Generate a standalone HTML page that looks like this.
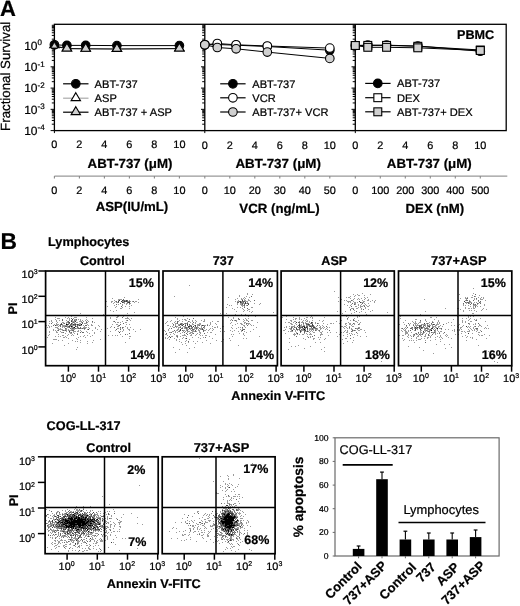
<!DOCTYPE html>
<html><head><meta charset="utf-8"><style>
html,body{margin:0;padding:0;background:#fff;}
svg{display:block;font-family:"Liberation Sans",sans-serif;text-rendering:geometricPrecision;opacity:0.999;}
text{stroke:#000;stroke-width:0.22px;}
</style></head><body>
<svg width="520" height="606" viewBox="0 0 520 606">
<defs><filter id="soft" x="-5%" y="-5%" width="110%" height="110%"><feGaussianBlur stdDeviation="0.5"/></filter></defs>
<rect width="520" height="606" fill="#fff"/>
<text x="0.1" y="15.9" font-size="22.0" font-weight="bold" fill="#000">A</text>
<text transform="translate(9.9,130.9) rotate(-90)" font-size="13.3" fill="#000" textLength="109.2" lengthAdjust="spacingAndGlyphs">Fractional Survival</text>
<text x="24.2" y="49.9" font-size="12" fill="#000">10<tspan font-size="8" dy="-4.6">0</tspan></text>
<text x="24.2" y="71.1" font-size="12" fill="#000">10<tspan font-size="8" dy="-4.6">-1</tspan></text>
<text x="24.2" y="92.4" font-size="12" fill="#000">10<tspan font-size="8" dy="-4.6">-2</tspan></text>
<text x="24.2" y="113.6" font-size="12" fill="#000">10<tspan font-size="8" dy="-4.6">-3</tspan></text>
<text x="24.2" y="134.9" font-size="12" fill="#000">10<tspan font-size="8" dy="-4.6">-4</tspan></text>
<rect x="54.4" y="24.3" width="451.8" height="106.3" fill="none" stroke="#000" stroke-width="1.3"/>
<line x1="204.8" y1="24.3" x2="204.8" y2="130.6" stroke="#000" stroke-width="1.3"/>
<line x1="355.3" y1="24.3" x2="355.3" y2="130.6" stroke="#000" stroke-width="1.3"/>
<path d="M50.6 130.60H54.4M51.8 124.20H54.4M51.8 120.46H54.4M51.8 117.80H54.4M51.8 115.74H54.4M51.8 114.06H54.4M51.8 112.63H54.4M51.8 111.40H54.4M51.8 110.31H54.4M50.6 109.34H54.4M51.8 102.94H54.4M51.8 99.20H54.4M51.8 96.54H54.4M51.8 94.48H54.4M51.8 92.80H54.4M51.8 91.37H54.4M51.8 90.14H54.4M51.8 89.05H54.4M50.6 88.08H54.4M51.8 81.68H54.4M51.8 77.94H54.4M51.8 75.28H54.4M51.8 73.22H54.4M51.8 71.54H54.4M51.8 70.11H54.4M51.8 68.88H54.4M51.8 67.79H54.4M50.6 66.82H54.4M51.8 60.42H54.4M51.8 56.68H54.4M51.8 54.02H54.4M51.8 51.96H54.4M51.8 50.28H54.4M51.8 48.85H54.4M51.8 47.62H54.4M51.8 46.53H54.4M50.6 45.56H54.4M51.8 39.16H54.4M51.8 35.42H54.4M51.8 32.76H54.4M51.8 30.70H54.4M51.8 29.02H54.4M51.8 27.59H54.4M51.8 26.36H54.4M51.8 25.27H54.4M54.4 130.6V133.1" stroke="#000" stroke-width="1.0" fill="none"/>
<path d="M201.0 130.60H204.8M202.2 124.20H204.8M202.2 120.46H204.8M202.2 117.80H204.8M202.2 115.74H204.8M202.2 114.06H204.8M202.2 112.63H204.8M202.2 111.40H204.8M202.2 110.31H204.8M201.0 109.34H204.8M202.2 102.94H204.8M202.2 99.20H204.8M202.2 96.54H204.8M202.2 94.48H204.8M202.2 92.80H204.8M202.2 91.37H204.8M202.2 90.14H204.8M202.2 89.05H204.8M201.0 88.08H204.8M202.2 81.68H204.8M202.2 77.94H204.8M202.2 75.28H204.8M202.2 73.22H204.8M202.2 71.54H204.8M202.2 70.11H204.8M202.2 68.88H204.8M202.2 67.79H204.8M201.0 66.82H204.8M202.2 60.42H204.8M202.2 56.68H204.8M202.2 54.02H204.8M202.2 51.96H204.8M202.2 50.28H204.8M202.2 48.85H204.8M202.2 47.62H204.8M202.2 46.53H204.8M201.0 45.56H204.8M202.2 39.16H204.8M202.2 35.42H204.8M202.2 32.76H204.8M202.2 30.70H204.8M202.2 29.02H204.8M202.2 27.59H204.8M202.2 26.36H204.8M202.2 25.27H204.8M204.8 130.6V133.1" stroke="#000" stroke-width="1.0" fill="none"/>
<path d="M351.5 130.60H355.3M352.7 124.20H355.3M352.7 120.46H355.3M352.7 117.80H355.3M352.7 115.74H355.3M352.7 114.06H355.3M352.7 112.63H355.3M352.7 111.40H355.3M352.7 110.31H355.3M351.5 109.34H355.3M352.7 102.94H355.3M352.7 99.20H355.3M352.7 96.54H355.3M352.7 94.48H355.3M352.7 92.80H355.3M352.7 91.37H355.3M352.7 90.14H355.3M352.7 89.05H355.3M351.5 88.08H355.3M352.7 81.68H355.3M352.7 77.94H355.3M352.7 75.28H355.3M352.7 73.22H355.3M352.7 71.54H355.3M352.7 70.11H355.3M352.7 68.88H355.3M352.7 67.79H355.3M351.5 66.82H355.3M352.7 60.42H355.3M352.7 56.68H355.3M352.7 54.02H355.3M352.7 51.96H355.3M352.7 50.28H355.3M352.7 48.85H355.3M352.7 47.62H355.3M352.7 46.53H355.3M351.5 45.56H355.3M352.7 39.16H355.3M352.7 35.42H355.3M352.7 32.76H355.3M352.7 30.70H355.3M352.7 29.02H355.3M352.7 27.59H355.3M352.7 26.36H355.3M352.7 25.27H355.3M355.3 130.6V133.1" stroke="#000" stroke-width="1.0" fill="none"/>
<text x="54.4" y="147.8" font-size="10.9" text-anchor="middle" fill="#000">0</text>
<text x="54.4" y="193.7" font-size="10.9" text-anchor="middle" fill="#000">0</text>
<text x="79.4" y="147.8" font-size="10.9" text-anchor="middle" fill="#000">2</text>
<text x="79.4" y="193.7" font-size="10.9" text-anchor="middle" fill="#000">2</text>
<text x="104.4" y="147.8" font-size="10.9" text-anchor="middle" fill="#000">4</text>
<text x="104.4" y="193.7" font-size="10.9" text-anchor="middle" fill="#000">4</text>
<text x="129.4" y="147.8" font-size="10.9" text-anchor="middle" fill="#000">6</text>
<text x="129.4" y="193.7" font-size="10.9" text-anchor="middle" fill="#000">6</text>
<text x="154.4" y="147.8" font-size="10.9" text-anchor="middle" fill="#000">8</text>
<text x="154.4" y="193.7" font-size="10.9" text-anchor="middle" fill="#000">8</text>
<text x="179.4" y="147.8" font-size="10.9" text-anchor="middle" fill="#000">10</text>
<text x="179.4" y="193.7" font-size="10.9" text-anchor="middle" fill="#000">10</text>
<text x="204.8" y="148.6" font-size="10.9" text-anchor="middle" fill="#000">0</text>
<text x="204.8" y="193.7" font-size="10.9" text-anchor="middle" fill="#000">0</text>
<text x="229.8" y="148.6" font-size="10.9" text-anchor="middle" fill="#000">2</text>
<text x="229.8" y="193.7" font-size="10.9" text-anchor="middle" fill="#000">10</text>
<text x="254.8" y="148.6" font-size="10.9" text-anchor="middle" fill="#000">4</text>
<text x="254.8" y="193.7" font-size="10.9" text-anchor="middle" fill="#000">20</text>
<text x="279.8" y="148.6" font-size="10.9" text-anchor="middle" fill="#000">6</text>
<text x="279.8" y="193.7" font-size="10.9" text-anchor="middle" fill="#000">30</text>
<text x="304.8" y="148.6" font-size="10.9" text-anchor="middle" fill="#000">8</text>
<text x="304.8" y="193.7" font-size="10.9" text-anchor="middle" fill="#000">40</text>
<text x="329.8" y="148.6" font-size="10.9" text-anchor="middle" fill="#000">10</text>
<text x="329.8" y="193.7" font-size="10.9" text-anchor="middle" fill="#000">50</text>
<text x="355.3" y="148.6" font-size="10.9" text-anchor="middle" fill="#000">0</text>
<text x="355.3" y="193.7" font-size="10.9" text-anchor="middle" fill="#000">0</text>
<text x="380.3" y="148.6" font-size="10.9" text-anchor="middle" fill="#000">2</text>
<text x="380.3" y="193.7" font-size="10.9" text-anchor="middle" fill="#000">100</text>
<text x="405.3" y="148.6" font-size="10.9" text-anchor="middle" fill="#000">4</text>
<text x="405.3" y="193.7" font-size="10.9" text-anchor="middle" fill="#000">200</text>
<text x="430.3" y="148.6" font-size="10.9" text-anchor="middle" fill="#000">6</text>
<text x="430.3" y="193.7" font-size="10.9" text-anchor="middle" fill="#000">300</text>
<text x="455.3" y="148.6" font-size="10.9" text-anchor="middle" fill="#000">8</text>
<text x="455.3" y="193.7" font-size="10.9" text-anchor="middle" fill="#000">400</text>
<text x="480.3" y="148.6" font-size="10.9" text-anchor="middle" fill="#000">10</text>
<text x="480.3" y="193.7" font-size="10.9" text-anchor="middle" fill="#000">500</text>
<line x1="54.4" y1="176.1" x2="507.3" y2="176.1" stroke="#999" stroke-width="1.4"/>
<line x1="54.4" y1="176.1" x2="54.4" y2="178.4" stroke="#888" stroke-width="1.1"/>
<line x1="79.4" y1="176.1" x2="79.4" y2="178.4" stroke="#888" stroke-width="1.1"/>
<line x1="104.4" y1="176.1" x2="104.4" y2="178.4" stroke="#888" stroke-width="1.1"/>
<line x1="129.4" y1="176.1" x2="129.4" y2="178.4" stroke="#888" stroke-width="1.1"/>
<line x1="154.4" y1="176.1" x2="154.4" y2="178.4" stroke="#888" stroke-width="1.1"/>
<line x1="179.4" y1="176.1" x2="179.4" y2="178.4" stroke="#888" stroke-width="1.1"/>
<line x1="204.8" y1="176.1" x2="204.8" y2="178.4" stroke="#888" stroke-width="1.1"/>
<line x1="229.8" y1="176.1" x2="229.8" y2="178.4" stroke="#888" stroke-width="1.1"/>
<line x1="254.8" y1="176.1" x2="254.8" y2="178.4" stroke="#888" stroke-width="1.1"/>
<line x1="279.8" y1="176.1" x2="279.8" y2="178.4" stroke="#888" stroke-width="1.1"/>
<line x1="304.8" y1="176.1" x2="304.8" y2="178.4" stroke="#888" stroke-width="1.1"/>
<line x1="329.8" y1="176.1" x2="329.8" y2="178.4" stroke="#888" stroke-width="1.1"/>
<line x1="355.3" y1="176.1" x2="355.3" y2="178.4" stroke="#888" stroke-width="1.1"/>
<line x1="380.3" y1="176.1" x2="380.3" y2="178.4" stroke="#888" stroke-width="1.1"/>
<line x1="405.3" y1="176.1" x2="405.3" y2="178.4" stroke="#888" stroke-width="1.1"/>
<line x1="430.3" y1="176.1" x2="430.3" y2="178.4" stroke="#888" stroke-width="1.1"/>
<line x1="455.3" y1="176.1" x2="455.3" y2="178.4" stroke="#888" stroke-width="1.1"/>
<line x1="480.3" y1="176.1" x2="480.3" y2="178.4" stroke="#888" stroke-width="1.1"/>
<text x="87.6" y="168.4" font-size="13.2" font-weight="bold" fill="#000" textLength="84.8" lengthAdjust="spacingAndGlyphs">ABT-737 (&#956;M)</text>
<text x="235.4" y="168.4" font-size="13.2" font-weight="bold" fill="#000" textLength="85.6" lengthAdjust="spacingAndGlyphs">ABT-737 (&#956;M)</text>
<text x="386.8" y="168.4" font-size="13.2" font-weight="bold" fill="#000" textLength="84.9" lengthAdjust="spacingAndGlyphs">ABT-737 (&#956;M)</text>
<text x="95.7" y="211.3" font-size="13.2" font-weight="bold" fill="#000">ASP(IU/mL)</text>
<text x="239.3" y="213.1" font-size="13.4" font-weight="bold" textLength="80.3" lengthAdjust="spacingAndGlyphs">VCR (ng/mL)</text>
<text x="405.6" y="213.2" font-size="13.2" font-weight="bold" fill="#000">DEX (nM)</text>
<text x="457.0" y="39.3" font-size="12.6" font-weight="bold" fill="#000">PBMC</text>
<path d="M54.4 45.3 L66.9 48.6 L85.7 48.8 L116.9 49.0 L179.4 48.6" stroke="#999" stroke-width="1.0" fill="none"/>
<path d="M54.4 39.8L59.1 47.7L49.7 47.7Z" fill="#fff" stroke="#000" stroke-width="1.1" stroke-linejoin="miter"/>
<path d="M66.9 43.1L71.6 51.0L62.2 51.0Z" fill="#fff" stroke="#000" stroke-width="1.1" stroke-linejoin="miter"/>
<path d="M85.7 43.3L90.4 51.2L81.0 51.2Z" fill="#fff" stroke="#000" stroke-width="1.1" stroke-linejoin="miter"/>
<path d="M116.9 43.5L121.6 51.4L112.2 51.4Z" fill="#fff" stroke="#000" stroke-width="1.1" stroke-linejoin="miter"/>
<path d="M179.4 43.1L184.1 51.0L174.7 51.0Z" fill="#fff" stroke="#000" stroke-width="1.1" stroke-linejoin="miter"/>
<path d="M54.4 44.8 L66.9 45.4 L85.7 45.4 L116.9 45.6 L179.4 45.6" stroke="#000" stroke-width="1.0" fill="none"/>
<circle cx="54.4" cy="44.8" r="4.3" fill="#000" stroke="#000" stroke-width="1.1"/>
<circle cx="66.9" cy="45.4" r="4.3" fill="#000" stroke="#000" stroke-width="1.1"/>
<circle cx="85.7" cy="45.4" r="4.3" fill="#000" stroke="#000" stroke-width="1.1"/>
<circle cx="116.9" cy="45.6" r="4.3" fill="#000" stroke="#000" stroke-width="1.1"/>
<circle cx="179.4" cy="45.6" r="4.3" fill="#000" stroke="#000" stroke-width="1.1"/>
<path d="M54.4 46.3 L66.9 48.6 L85.7 48.8 L116.9 49.0 L179.4 48.6" stroke="#000" stroke-width="1.0" fill="none"/>
<path d="M54.4 42.3L57.8 48.0L51.0 48.0Z" fill="#d0d0d0" stroke="#000" stroke-width="0.8" stroke-linejoin="miter"/>
<path d="M66.9 43.1L71.6 51.0L62.2 51.0Z" fill="#d0d0d0" stroke="#000" stroke-width="1.1" stroke-linejoin="miter"/>
<path d="M85.7 43.3L90.4 51.2L81.0 51.2Z" fill="#d0d0d0" stroke="#000" stroke-width="1.1" stroke-linejoin="miter"/>
<path d="M116.9 43.5L121.6 51.4L112.2 51.4Z" fill="#d0d0d0" stroke="#000" stroke-width="1.1" stroke-linejoin="miter"/>
<path d="M179.4 43.1L184.1 51.0L174.7 51.0Z" fill="#d0d0d0" stroke="#000" stroke-width="1.1" stroke-linejoin="miter"/>
<path d="M204.8 44.8 L217.3 44.5 L236.1 45.2 L267.3 46.5 L329.8 50.2" stroke="#000" stroke-width="1.0" fill="none"/>
<circle cx="204.8" cy="44.8" r="4.3" fill="#000" stroke="#000" stroke-width="1.1"/>
<circle cx="217.3" cy="44.5" r="4.3" fill="#000" stroke="#000" stroke-width="1.1"/>
<circle cx="236.1" cy="45.2" r="4.3" fill="#000" stroke="#000" stroke-width="1.1"/>
<circle cx="267.3" cy="46.5" r="4.3" fill="#000" stroke="#000" stroke-width="1.1"/>
<circle cx="329.8" cy="50.2" r="4.3" fill="#000" stroke="#000" stroke-width="1.1"/>
<path d="M204.8 44.8 L217.3 43.5 L236.1 44.8 L267.3 46.0 L329.8 48.1" stroke="#000" stroke-width="1.0" fill="none"/>
<circle cx="204.8" cy="44.8" r="4.3" fill="#fff" stroke="#000" stroke-width="1.1"/>
<circle cx="217.3" cy="43.5" r="4.3" fill="#fff" stroke="#000" stroke-width="1.1"/>
<circle cx="236.1" cy="44.8" r="4.3" fill="#fff" stroke="#000" stroke-width="1.1"/>
<circle cx="267.3" cy="46.0" r="4.3" fill="#fff" stroke="#000" stroke-width="1.1"/>
<circle cx="329.8" cy="48.1" r="4.3" fill="#fff" stroke="#000" stroke-width="1.1"/>
<path d="M204.8 44.8 L217.3 47.5 L236.1 48.8 L267.3 52.1 L329.8 58.4" stroke="#000" stroke-width="1.0" fill="none"/>
<circle cx="204.8" cy="44.8" r="4.3" fill="#d0d0d0" stroke="#000" stroke-width="1.1"/>
<circle cx="217.3" cy="47.5" r="4.3" fill="#d0d0d0" stroke="#000" stroke-width="1.1"/>
<circle cx="236.1" cy="48.8" r="4.3" fill="#d0d0d0" stroke="#000" stroke-width="1.1"/>
<circle cx="267.3" cy="52.1" r="4.3" fill="#d0d0d0" stroke="#000" stroke-width="1.1"/>
<circle cx="329.8" cy="58.4" r="4.3" fill="#d0d0d0" stroke="#000" stroke-width="1.1"/>
<path d="M355.3 45.5 L367.8 45.2 L386.6 45.2 L417.8 46.0 L480.3 51.2" stroke="#000" stroke-width="1.0" fill="none"/>
<circle cx="355.3" cy="45.5" r="4.3" fill="#000" stroke="#000" stroke-width="1.1"/>
<circle cx="367.8" cy="45.2" r="4.3" fill="#000" stroke="#000" stroke-width="1.1"/>
<circle cx="386.6" cy="45.2" r="4.3" fill="#000" stroke="#000" stroke-width="1.1"/>
<circle cx="417.8" cy="46.0" r="4.3" fill="#000" stroke="#000" stroke-width="1.1"/>
<circle cx="480.3" cy="51.2" r="4.3" fill="#000" stroke="#000" stroke-width="1.1"/>
<path d="M355.3 45.5 L367.8 45.4 L386.6 45.4 L417.8 46.3 L480.3 50.0" stroke="#000" stroke-width="1.0" fill="none"/>
<rect x="351.35" y="41.55" width="7.9" height="7.9" fill="#fff" stroke="#000" stroke-width="1.1"/>
<rect x="363.85" y="41.45" width="7.9" height="7.9" fill="#fff" stroke="#000" stroke-width="1.1"/>
<rect x="382.60" y="41.45" width="7.9" height="7.9" fill="#fff" stroke="#000" stroke-width="1.1"/>
<rect x="413.85" y="42.35" width="7.9" height="7.9" fill="#fff" stroke="#000" stroke-width="1.1"/>
<rect x="476.35" y="46.05" width="7.9" height="7.9" fill="#fff" stroke="#000" stroke-width="1.1"/>
<path d="M355.3 45.5 L367.8 47.3 L386.6 47.3 L417.8 47.8 L480.3 50.5" stroke="#000" stroke-width="1.0" fill="none"/>
<rect x="351.35" y="41.55" width="7.9" height="7.9" fill="#d0d0d0" stroke="#000" stroke-width="1.1"/>
<rect x="363.85" y="43.35" width="7.9" height="7.9" fill="#d0d0d0" stroke="#000" stroke-width="1.1"/>
<rect x="382.60" y="43.35" width="7.9" height="7.9" fill="#d0d0d0" stroke="#000" stroke-width="1.1"/>
<rect x="413.85" y="43.85" width="7.9" height="7.9" fill="#d0d0d0" stroke="#000" stroke-width="1.1"/>
<rect x="476.35" y="46.55" width="7.9" height="7.9" fill="#d0d0d0" stroke="#000" stroke-width="1.1"/>
<line x1="63.1" y1="83.8" x2="88.5" y2="83.8" stroke="#000" stroke-width="1.2"/>
<circle cx="75.8" cy="83.8" r="4.3" fill="#000" stroke="#000" stroke-width="1.1"/>
<text x="94.6" y="87.7" font-size="11.1" fill="#000">ABT-737</text>
<line x1="63.1" y1="98.2" x2="88.5" y2="98.2" stroke="#aaa" stroke-width="1.2"/>
<path d="M75.8 92.7L80.5 100.6L71.1 100.6Z" fill="#fff" stroke="#000" stroke-width="1.1" stroke-linejoin="miter"/>
<text x="94.6" y="102.1" font-size="11.1" fill="#000">ASP</text>
<line x1="63.1" y1="112.2" x2="88.5" y2="112.2" stroke="#000" stroke-width="1.2"/>
<path d="M75.8 106.7L80.5 114.6L71.1 114.6Z" fill="#d0d0d0" stroke="#000" stroke-width="1.1" stroke-linejoin="miter"/>
<text x="94.6" y="116.1" font-size="11.1" fill="#000">ABT-737 + ASP</text>
<line x1="220.2" y1="83.8" x2="245.6" y2="83.8" stroke="#000" stroke-width="1.2"/>
<circle cx="232.9" cy="83.8" r="4.3" fill="#000" stroke="#000" stroke-width="1.1"/>
<text x="252.3" y="87.7" font-size="11.1" fill="#000">ABT-737</text>
<line x1="220.2" y1="97.8" x2="245.6" y2="97.8" stroke="#000" stroke-width="1.2"/>
<circle cx="232.9" cy="97.8" r="4.3" fill="#fff" stroke="#000" stroke-width="1.1"/>
<text x="252.3" y="101.7" font-size="11.1" fill="#000">VCR</text>
<line x1="220.2" y1="112.0" x2="245.6" y2="112.0" stroke="#000" stroke-width="1.2"/>
<circle cx="232.9" cy="112.0" r="4.3" fill="#d0d0d0" stroke="#000" stroke-width="1.1"/>
<text x="252.3" y="115.9" font-size="11.1" fill="#000">ABT-737+ VCR</text>
<line x1="365.2" y1="83.4" x2="390.6" y2="83.4" stroke="#000" stroke-width="1.2"/>
<circle cx="377.8" cy="83.4" r="4.3" fill="#000" stroke="#000" stroke-width="1.1"/>
<text x="397.0" y="87.3" font-size="11.1" fill="#000">ABT-737</text>
<line x1="365.2" y1="97.7" x2="390.6" y2="97.7" stroke="#000" stroke-width="1.2"/>
<rect x="373.85" y="93.75" width="7.9" height="7.9" fill="#fff" stroke="#000" stroke-width="1.1"/>
<text x="397.0" y="101.6" font-size="11.1" fill="#000">DEX</text>
<line x1="365.2" y1="111.8" x2="390.6" y2="111.8" stroke="#000" stroke-width="1.2"/>
<rect x="373.85" y="107.85" width="7.9" height="7.9" fill="#d0d0d0" stroke="#000" stroke-width="1.1"/>
<text x="397.0" y="115.7" font-size="11.1" fill="#000">ABT-737+ DEX</text>
<text x="0.5" y="248.7" font-size="22.8" font-weight="bold" fill="#000">B</text>
<text x="48.1" y="245.7" font-size="12.7" font-weight="bold" fill="#000">Lymphocytes</text>
<g filter="url(#soft)"><path d="M57 328h2v1h-2zM60 328h1v1h-1zM66 328h1v1h-1zM71 328h1v1h-1zM74 328h1v1h-1zM76 328h2v1h-2zM81 328h1v1h-1zM83 328h1v1h-1zM85 328h1v1h-1zM89 328h1v1h-1zM95 328h1v1h-1zM107 328h1v1h-1zM117 328h2v1h-2zM120 328h1v1h-1zM122 328h1v1h-1zM127 328h1v1h-1zM55 319h1v1h-1zM69 319h1v1h-1zM74 319h2v1h-2zM78 319h1v1h-1zM80 319h1v1h-1zM86 319h1v1h-1zM116 319h1v1h-1zM129 319h1v1h-1zM55 317h1v1h-1zM65 317h1v1h-1zM68 317h1v1h-1zM74 317h3v1h-3zM86 317h1v1h-1zM110 317h1v1h-1zM116 317h2v1h-2zM127 317h1v1h-1zM46 325h1v1h-1zM48 325h1v1h-1zM56 325h2v1h-2zM59 325h1v1h-1zM62 325h6v1h-6zM69 325h1v1h-1zM71 325h4v1h-4zM78 325h1v1h-1zM81 325h1v1h-1zM83 325h1v1h-1zM88 325h1v1h-1zM91 325h2v1h-2zM98 325h1v1h-1zM118 325h1v1h-1zM49 321h1v1h-1zM51 321h1v1h-1zM56 321h1v1h-1zM67 321h1v1h-1zM72 321h3v1h-3zM79 321h3v1h-3zM83 321h1v1h-1zM86 321h1v1h-1zM88 321h1v1h-1zM113 321h1v1h-1zM122 321h1v1h-1zM54 324h1v1h-1zM56 324h3v1h-3zM62 324h1v1h-1zM72 324h1v1h-1zM76 324h1v1h-1zM79 324h2v1h-2zM87 324h1v1h-1zM91 324h1v1h-1zM112 324h1v1h-1zM116 324h2v1h-2zM126 324h1v1h-1zM129 324h1v1h-1zM49 326h1v1h-1zM51 326h1v1h-1zM58 326h1v1h-1zM62 326h3v1h-3zM67 326h1v1h-1zM70 326h1v1h-1zM76 326h1v1h-1zM84 326h1v1h-1zM99 326h1v1h-1zM111 326h1v1h-1zM117 326h2v1h-2zM125 326h1v1h-1zM51 320h1v1h-1zM56 320h1v1h-1zM59 320h1v1h-1zM66 320h1v1h-1zM69 320h1v1h-1zM72 320h1v1h-1zM75 320h2v1h-2zM80 320h1v1h-1zM82 320h1v1h-1zM85 320h1v1h-1zM87 320h1v1h-1zM126 320h1v1h-1zM130 320h1v1h-1zM49 323h1v1h-1zM56 323h1v1h-1zM63 323h1v1h-1zM66 323h1v1h-1zM68 323h1v1h-1zM72 323h1v1h-1zM74 323h2v1h-2zM79 323h2v1h-2zM84 323h3v1h-3zM53 329h1v1h-1zM58 329h5v1h-5zM65 329h2v1h-2zM68 329h1v1h-1zM71 329h4v1h-4zM84 329h1v1h-1zM87 329h1v1h-1zM97 329h1v1h-1zM101 329h1v1h-1zM123 329h1v1h-1zM128 329h2v1h-2zM133 329h1v1h-1zM140 329h1v1h-1zM57 318h3v1h-3zM67 318h1v1h-1zM69 318h1v1h-1zM73 318h1v1h-1zM92 318h1v1h-1zM110 318h1v1h-1zM125 318h4v1h-4zM131 318h1v1h-1zM80 313h1v1h-1zM127 313h1v1h-1zM53 330h1v1h-1zM55 330h1v1h-1zM57 330h1v1h-1zM62 330h1v1h-1zM64 330h1v1h-1zM66 330h1v1h-1zM68 330h4v1h-4zM78 330h1v1h-1zM80 330h1v1h-1zM92 330h1v1h-1zM115 330h1v1h-1zM123 330h1v1h-1zM129 330h1v1h-1zM52 322h1v1h-1zM57 322h1v1h-1zM62 322h2v1h-2zM66 322h2v1h-2zM72 322h1v1h-1zM74 322h1v1h-1zM76 322h2v1h-2zM81 322h1v1h-1zM87 322h1v1h-1zM92 322h1v1h-1zM94 322h1v1h-1zM115 322h1v1h-1zM117 322h2v1h-2zM120 322h1v1h-1zM125 322h2v1h-2zM47 327h1v1h-1zM49 327h1v1h-1zM55 327h3v1h-3zM62 327h1v1h-1zM64 327h1v1h-1zM67 327h2v1h-2zM71 327h2v1h-2zM78 327h1v1h-1zM83 327h4v1h-4zM88 327h1v1h-1zM95 327h1v1h-1zM110 327h1v1h-1zM123 327h1v1h-1zM127 327h1v1h-1zM130 327h1v1h-1zM49 331h1v1h-1zM56 331h1v1h-1zM60 331h1v1h-1zM66 331h1v1h-1zM73 331h3v1h-3zM77 331h2v1h-2zM81 331h1v1h-1zM86 331h1v1h-1zM100 331h1v1h-1zM110 331h1v1h-1zM118 331h1v1h-1zM120 331h1v1h-1zM122 331h1v1h-1zM135 331h1v1h-1zM65 333h1v1h-1zM70 333h2v1h-2zM74 333h1v1h-1zM77 333h1v1h-1zM89 333h1v1h-1zM94 333h1v1h-1zM48 335h1v1h-1zM62 335h2v1h-2zM67 335h1v1h-1zM71 335h1v1h-1zM73 335h1v1h-1zM84 335h1v1h-1zM87 335h1v1h-1zM92 335h1v1h-1zM108 335h1v1h-1zM112 335h1v1h-1zM115 335h1v1h-1zM117 335h1v1h-1zM75 341h1v1h-1zM77 341h1v1h-1zM87 341h1v1h-1zM53 339h4v1h-4zM77 339h1v1h-1zM100 339h1v1h-1zM47 337h1v1h-1zM63 337h2v1h-2zM66 337h1v1h-1zM78 337h1v1h-1zM85 337h1v1h-1zM52 343h1v1h-1zM68 343h1v1h-1zM87 343h1v1h-1zM49 332h1v1h-1zM56 332h2v1h-2zM61 332h2v1h-2zM69 332h2v1h-2zM73 332h1v1h-1zM87 332h1v1h-1zM94 332h1v1h-1zM58 340h1v1h-1zM62 340h1v1h-1zM72 340h1v1h-1zM80 340h1v1h-1zM93 340h1v1h-1zM68 338h1v1h-1zM76 338h1v1h-1zM129 338h1v1h-1zM60 315h1v1h-1zM69 315h1v1h-1zM114 315h1v1h-1zM118 315h2v1h-2zM130 315h1v1h-1zM49 334h1v1h-1zM58 334h1v1h-1zM68 334h1v1h-1zM72 334h1v1h-1zM120 334h1v1h-1zM127 334h1v1h-1zM55 336h1v1h-1zM58 336h1v1h-1zM60 336h1v1h-1zM65 336h1v1h-1zM80 336h1v1h-1zM83 336h1v1h-1zM90 336h1v1h-1zM122 336h1v1h-1zM129 336h2v1h-2zM71 316h1v1h-1zM117 316h2v1h-2zM123 316h1v1h-1zM80 342h1v1h-1zM92 342h1v1h-1zM125 342h1v1h-1zM77 347h1v1h-1zM76 349h1v1h-1zM64 345h1v1h-1zM106 301h1v1h-1zM111 301h2v1h-2zM115 301h1v1h-1zM122 301h2v1h-2zM128 301h1v1h-1zM130 301h1v1h-1zM132 301h1v1h-1zM135 301h2v1h-2zM113 303h1v1h-1zM124 303h1v1h-1zM126 303h2v1h-2zM130 303h1v1h-1zM111 302h1v1h-1zM114 302h1v1h-1zM116 302h2v1h-2zM124 302h1v1h-1zM134 302h1v1h-1zM138 302h1v1h-1zM118 299h4v1h-4zM138 299h1v1h-1zM118 304h1v1h-1zM122 304h1v1h-1zM126 304h1v1h-1zM129 304h1v1h-1zM114 300h1v1h-1zM118 300h1v1h-1zM125 300h1v1h-1zM129 300h1v1h-1zM113 311h1v1h-1zM115 307h1v1h-1zM122 307h1v1h-1zM120 308h2v1h-2zM129 308h1v1h-1zM107 306h1v1h-1zM116 306h1v1h-1zM125 306h1v1h-1zM129 306h1v1h-1zM114 305h1v1h-1zM122 305h1v1h-1zM131 305h1v1h-1zM110 310h1v1h-1zM116 310h1v1h-1zM112 298h1v1h-1zM134 312h1v1h-1zM124 297h1v1h-1zM103 314h1v1h-1z" fill="#9a9a9a"/><path d="M62 320h1v1h-1zM71 320h1v1h-1zM74 320h1v1h-1zM127 320h1v1h-1zM65 328h1v1h-1zM70 328h1v1h-1zM72 328h2v1h-2zM75 328h1v1h-1zM78 328h3v1h-3zM82 328h1v1h-1zM84 328h1v1h-1zM58 330h1v1h-1zM63 330h1v1h-1zM65 330h1v1h-1zM72 330h2v1h-2zM69 327h1v1h-1zM73 327h1v1h-1zM77 327h1v1h-1zM80 327h1v1h-1zM114 327h1v1h-1zM120 327h1v1h-1zM122 327h1v1h-1zM68 321h1v1h-1zM92 321h1v1h-1zM114 321h1v1h-1zM60 324h1v1h-1zM68 324h1v1h-1zM70 324h2v1h-2zM74 324h1v1h-1zM78 324h1v1h-1zM120 324h1v1h-1zM53 325h1v1h-1zM60 325h1v1h-1zM70 325h1v1h-1zM75 325h1v1h-1zM77 325h1v1h-1zM80 325h1v1h-1zM85 325h2v1h-2zM119 325h1v1h-1zM62 319h1v1h-1zM76 319h1v1h-1zM60 326h1v1h-1zM65 326h2v1h-2zM68 326h1v1h-1zM72 326h1v1h-1zM77 326h1v1h-1zM63 332h1v1h-1zM71 332h1v1h-1zM80 332h1v1h-1zM82 332h2v1h-2zM68 322h1v1h-1zM73 322h1v1h-1zM82 322h1v1h-1zM86 322h1v1h-1zM66 315h1v1h-1zM70 315h1v1h-1zM51 323h1v1h-1zM61 323h1v1h-1zM64 323h1v1h-1zM69 323h1v1h-1zM82 323h1v1h-1zM123 323h1v1h-1zM77 334h1v1h-1zM125 334h1v1h-1zM71 318h1v1h-1zM116 301h1v1h-1zM125 301h1v1h-1zM127 301h1v1h-1zM129 301h1v1h-1zM133 301h1v1h-1zM123 300h2v1h-2zM127 300h1v1h-1zM118 302h1v1h-1zM123 302h1v1h-1zM127 302h1v1h-1zM123 299h1v1h-1zM120 303h1v1h-1zM129 303h1v1h-1zM116 304h1v1h-1zM121 306h1v1h-1zM116 329h1v1h-1zM120 329h1v1h-1zM122 317h1v1h-1zM129 333h1v1h-1z" fill="#666"/><path d="M69 331h1v1h-1zM61 324h1v1h-1zM67 324h1v1h-1zM73 324h1v1h-1zM75 324h1v1h-1zM77 324h1v1h-1zM71 321h1v1h-1zM75 321h1v1h-1zM69 322h1v1h-1zM72 319h1v1h-1zM55 325h1v1h-1zM79 325h1v1h-1zM69 326h1v1h-1zM75 326h1v1h-1zM71 323h1v1h-1zM88 329h1v1h-1zM118 301h1v1h-1zM121 301h1v1h-1zM124 301h1v1h-1zM126 301h1v1h-1zM122 302h1v1h-1zM128 302h2v1h-2zM119 300h1v1h-1zM122 300h1v1h-1zM126 300h1v1h-1zM119 332h1v1h-1z" fill="#3a3a3a"/><path d="M71 326h1v1h-1zM66 324h1v1h-1zM81 324h1v1h-1zM74 327h1v1h-1z" fill="#000"/></g>
<rect x="45.6" y="271.0" width="113.3" height="94.7" fill="none" stroke="#000" stroke-width="1.7"/>
<line x1="105.5" y1="271.0" x2="105.5" y2="365.7" stroke="#000" stroke-width="1.5"/>
<line x1="45.6" y1="315.5" x2="158.9" y2="315.5" stroke="#000" stroke-width="1.5"/>
<line x1="68.4" y1="365.7" x2="68.4" y2="371.7" stroke="#000" stroke-width="1.5"/>
<text x="59.9" y="381.7" font-size="10.9" fill="#000">10<tspan font-size="7" dy="-3.9">0</tspan></text>
<line x1="98.5" y1="365.7" x2="98.5" y2="371.7" stroke="#000" stroke-width="1.5"/>
<text x="90.0" y="381.7" font-size="10.9" fill="#000">10<tspan font-size="7" dy="-3.9">1</tspan></text>
<line x1="128.6" y1="365.7" x2="128.6" y2="371.7" stroke="#000" stroke-width="1.5"/>
<text x="120.1" y="381.7" font-size="10.9" fill="#000">10<tspan font-size="7" dy="-3.9">2</tspan></text>
<line x1="158.7" y1="365.7" x2="158.7" y2="371.7" stroke="#000" stroke-width="1.5"/>
<text x="150.2" y="381.7" font-size="10.9" fill="#000">10<tspan font-size="7" dy="-3.9">3</tspan></text>
<text x="80.0" y="264.7" font-size="12.6" font-weight="bold" fill="#000">Control</text>
<text x="153.9" y="287.2" font-size="12.5" font-weight="bold" text-anchor="end" fill="#000">15%</text>
<text x="155.2" y="358.6" font-size="12.5" font-weight="bold" text-anchor="end" fill="#000">14%</text>
<line x1="38.4" y1="271.0" x2="45.6" y2="271.0" stroke="#000" stroke-width="1.5"/>
<text x="21.6" y="277.7" font-size="10.9" fill="#000">10<tspan font-size="7" dy="-3.9">3</tspan></text>
<line x1="38.4" y1="296.3" x2="45.6" y2="296.3" stroke="#000" stroke-width="1.5"/>
<text x="21.6" y="303.0" font-size="10.9" fill="#000">10<tspan font-size="7" dy="-3.9">2</tspan></text>
<line x1="38.4" y1="321.6" x2="45.6" y2="321.6" stroke="#000" stroke-width="1.5"/>
<text x="21.6" y="328.3" font-size="10.9" fill="#000">10<tspan font-size="7" dy="-3.9">1</tspan></text>
<line x1="38.4" y1="346.9" x2="45.6" y2="346.9" stroke="#000" stroke-width="1.5"/>
<text x="21.6" y="353.6" font-size="10.9" fill="#000">10<tspan font-size="7" dy="-3.9">0</tspan></text>
<g filter="url(#soft)"><path d="M165 334h2v1h-2zM170 334h1v1h-1zM174 334h1v1h-1zM184 334h1v1h-1zM191 334h1v1h-1zM196 334h1v1h-1zM199 334h1v1h-1zM215 334h1v1h-1zM231 334h1v1h-1zM233 334h1v1h-1zM243 334h1v1h-1zM173 327h2v1h-2zM176 327h1v1h-1zM178 327h2v1h-2zM182 327h1v1h-1zM184 327h1v1h-1zM187 327h1v1h-1zM189 327h1v1h-1zM191 327h1v1h-1zM194 327h2v1h-2zM197 327h2v1h-2zM201 327h1v1h-1zM204 327h1v1h-1zM214 327h2v1h-2zM217 327h1v1h-1zM231 327h1v1h-1zM238 327h1v1h-1zM240 327h1v1h-1zM245 327h1v1h-1zM256 327h1v1h-1zM165 323h1v1h-1zM172 323h1v1h-1zM175 323h2v1h-2zM180 323h1v1h-1zM182 323h1v1h-1zM184 323h1v1h-1zM186 323h1v1h-1zM192 323h1v1h-1zM195 323h1v1h-1zM199 323h2v1h-2zM210 323h1v1h-1zM215 323h1v1h-1zM230 323h1v1h-1zM237 323h1v1h-1zM240 323h2v1h-2zM244 323h1v1h-1zM247 323h3v1h-3zM167 325h2v1h-2zM173 325h1v1h-1zM175 325h1v1h-1zM178 325h1v1h-1zM181 325h1v1h-1zM189 325h1v1h-1zM191 325h1v1h-1zM194 325h1v1h-1zM197 325h2v1h-2zM201 325h1v1h-1zM204 325h2v1h-2zM209 325h1v1h-1zM232 325h1v1h-1zM243 325h2v1h-2zM251 325h1v1h-1zM253 325h1v1h-1zM166 322h1v1h-1zM174 322h1v1h-1zM187 322h1v1h-1zM190 322h1v1h-1zM195 322h1v1h-1zM210 322h1v1h-1zM231 322h1v1h-1zM244 322h2v1h-2zM257 322h1v1h-1zM164 330h1v1h-1zM168 330h1v1h-1zM176 330h2v1h-2zM179 330h1v1h-1zM183 330h2v1h-2zM186 330h1v1h-1zM192 330h2v1h-2zM198 330h2v1h-2zM204 330h2v1h-2zM208 330h1v1h-1zM212 330h1v1h-1zM230 330h1v1h-1zM234 330h1v1h-1zM241 330h1v1h-1zM168 329h1v1h-1zM177 329h2v1h-2zM186 329h3v1h-3zM190 329h1v1h-1zM194 329h1v1h-1zM196 329h1v1h-1zM198 329h1v1h-1zM200 329h2v1h-2zM203 329h1v1h-1zM206 329h1v1h-1zM209 329h1v1h-1zM213 329h1v1h-1zM240 329h1v1h-1zM242 329h1v1h-1zM253 329h1v1h-1zM167 335h1v1h-1zM176 335h2v1h-2zM182 335h4v1h-4zM190 335h2v1h-2zM195 335h1v1h-1zM200 335h1v1h-1zM202 335h1v1h-1zM205 335h2v1h-2zM244 335h1v1h-1zM175 324h1v1h-1zM178 324h2v1h-2zM182 324h1v1h-1zM185 324h1v1h-1zM192 324h2v1h-2zM197 324h4v1h-4zM207 324h1v1h-1zM210 324h1v1h-1zM216 324h1v1h-1zM235 324h1v1h-1zM241 324h2v1h-2zM246 324h1v1h-1zM248 324h1v1h-1zM250 324h1v1h-1zM170 326h1v1h-1zM172 326h1v1h-1zM176 326h2v1h-2zM180 326h1v1h-1zM183 326h3v1h-3zM190 326h1v1h-1zM197 326h1v1h-1zM201 326h1v1h-1zM212 326h1v1h-1zM217 326h1v1h-1zM222 326h2v1h-2zM244 326h1v1h-1zM171 320h1v1h-1zM179 320h1v1h-1zM185 320h2v1h-2zM192 320h1v1h-1zM195 320h1v1h-1zM201 320h1v1h-1zM204 320h1v1h-1zM230 320h1v1h-1zM234 320h1v1h-1zM236 320h1v1h-1zM244 320h1v1h-1zM246 320h2v1h-2zM251 320h2v1h-2zM167 321h1v1h-1zM170 321h1v1h-1zM175 321h1v1h-1zM178 321h1v1h-1zM182 321h1v1h-1zM189 321h1v1h-1zM192 321h1v1h-1zM196 321h1v1h-1zM203 321h2v1h-2zM212 321h1v1h-1zM217 321h2v1h-2zM236 321h1v1h-1zM243 321h1v1h-1zM169 332h2v1h-2zM175 332h1v1h-1zM177 332h1v1h-1zM182 332h1v1h-1zM187 332h1v1h-1zM190 332h3v1h-3zM199 332h2v1h-2zM207 332h1v1h-1zM210 332h2v1h-2zM246 332h1v1h-1zM165 331h1v1h-1zM172 331h2v1h-2zM175 331h1v1h-1zM178 331h1v1h-1zM183 331h1v1h-1zM185 331h1v1h-1zM187 331h3v1h-3zM192 331h3v1h-3zM196 331h1v1h-1zM199 331h1v1h-1zM220 331h1v1h-1zM224 331h1v1h-1zM232 331h1v1h-1zM238 331h1v1h-1zM241 331h1v1h-1zM244 331h1v1h-1zM250 331h1v1h-1zM169 328h1v1h-1zM178 328h1v1h-1zM184 328h2v1h-2zM187 328h1v1h-1zM190 328h1v1h-1zM192 328h1v1h-1zM194 328h2v1h-2zM197 328h1v1h-1zM200 328h2v1h-2zM204 328h1v1h-1zM210 328h1v1h-1zM212 328h1v1h-1zM220 328h1v1h-1zM232 328h1v1h-1zM236 328h1v1h-1zM242 328h1v1h-1zM177 319h1v1h-1zM182 319h1v1h-1zM184 319h2v1h-2zM204 319h1v1h-1zM231 319h1v1h-1zM238 319h1v1h-1zM243 319h1v1h-1zM246 319h1v1h-1zM173 333h1v1h-1zM180 333h1v1h-1zM189 333h2v1h-2zM192 333h1v1h-1zM197 333h1v1h-1zM200 333h1v1h-1zM239 333h1v1h-1zM243 333h1v1h-1zM165 337h1v1h-1zM168 337h1v1h-1zM177 337h1v1h-1zM183 337h1v1h-1zM192 337h1v1h-1zM198 337h1v1h-1zM203 337h1v1h-1zM176 340h1v1h-1zM186 340h1v1h-1zM206 340h1v1h-1zM216 340h1v1h-1zM230 340h1v1h-1zM206 315h1v1h-1zM245 315h1v1h-1zM247 315h1v1h-1zM181 342h1v1h-1zM188 342h1v1h-1zM202 342h1v1h-1zM165 338h1v1h-1zM167 338h1v1h-1zM174 338h1v1h-1zM182 338h1v1h-1zM185 338h1v1h-1zM200 338h1v1h-1zM212 338h1v1h-1zM229 338h1v1h-1zM243 338h1v1h-1zM246 338h1v1h-1zM179 341h1v1h-1zM185 341h1v1h-1zM193 341h1v1h-1zM197 341h1v1h-1zM221 341h1v1h-1zM169 339h1v1h-1zM176 339h1v1h-1zM179 339h1v1h-1zM189 339h1v1h-1zM223 339h1v1h-1zM183 316h1v1h-1zM248 316h1v1h-1zM255 316h1v1h-1zM171 336h2v1h-2zM176 336h1v1h-1zM180 336h1v1h-1zM186 336h1v1h-1zM209 336h1v1h-1zM232 336h1v1h-1zM259 336h1v1h-1zM220 313h1v1h-1zM226 313h1v1h-1zM182 344h1v1h-1zM177 318h1v1h-1zM187 318h1v1h-1zM233 318h1v1h-1zM245 318h1v1h-1zM248 318h1v1h-1zM186 345h1v1h-1zM238 345h1v1h-1zM175 317h1v1h-1zM228 317h1v1h-1zM233 317h1v1h-1zM185 343h1v1h-1zM195 343h1v1h-1zM210 343h1v1h-1zM173 347h1v1h-1zM194 347h1v1h-1zM175 352h1v1h-1zM187 352h1v1h-1zM189 348h1v1h-1zM179 349h1v1h-1zM237 303h1v1h-1zM240 303h2v1h-2zM243 303h2v1h-2zM246 303h1v1h-1zM254 303h1v1h-1zM260 303h1v1h-1zM242 302h1v1h-1zM247 302h1v1h-1zM235 301h1v1h-1zM237 301h2v1h-2zM241 301h1v1h-1zM245 301h3v1h-3zM250 301h1v1h-1zM228 297h1v1h-1zM244 297h1v1h-1zM249 297h1v1h-1zM229 305h1v1h-1zM231 305h1v1h-1zM241 305h3v1h-3zM246 305h1v1h-1zM235 299h1v1h-1zM241 299h2v1h-2zM244 299h1v1h-1zM248 299h1v1h-1zM237 298h1v1h-1zM241 298h1v1h-1zM243 298h1v1h-1zM245 298h1v1h-1zM227 304h1v1h-1zM237 304h1v1h-1zM240 304h2v1h-2zM259 304h1v1h-1zM234 309h1v1h-1zM243 309h1v1h-1zM248 309h2v1h-2zM247 294h1v1h-1zM252 294h1v1h-1zM238 300h1v1h-1zM244 300h2v1h-2zM248 300h2v1h-2zM242 306h1v1h-1zM244 306h1v1h-1zM226 307h1v1h-1zM237 307h1v1h-1zM240 307h1v1h-1zM251 307h2v1h-2zM174 296h1v1h-1zM239 296h1v1h-1zM246 296h1v1h-1zM232 308h1v1h-1zM242 308h1v1h-1zM247 293h1v1h-1zM251 312h1v1h-1zM273 312h1v1h-1zM236 311h1v1h-1zM243 311h1v1h-1zM249 311h1v1h-1zM252 311h1v1h-1zM239 295h1v1h-1zM244 310h1v1h-1zM247 310h1v1h-1zM235 314h1v1h-1zM241 314h1v1h-1zM245 314h1v1h-1zM189 285h1v1h-1z" fill="#9a9a9a"/><path d="M180 327h1v1h-1zM185 327h2v1h-2zM188 327h1v1h-1zM192 327h1v1h-1zM196 327h1v1h-1zM203 327h1v1h-1zM242 327h1v1h-1zM177 321h1v1h-1zM188 321h1v1h-1zM248 321h1v1h-1zM179 331h1v1h-1zM195 331h1v1h-1zM203 331h1v1h-1zM171 328h1v1h-1zM181 328h2v1h-2zM186 328h1v1h-1zM191 328h1v1h-1zM196 328h1v1h-1zM199 328h1v1h-1zM202 328h1v1h-1zM179 325h1v1h-1zM187 325h1v1h-1zM190 325h1v1h-1zM199 325h1v1h-1zM203 325h1v1h-1zM207 325h1v1h-1zM247 325h1v1h-1zM177 323h1v1h-1zM181 323h1v1h-1zM185 323h1v1h-1zM187 323h1v1h-1zM246 323h1v1h-1zM173 324h1v1h-1zM181 324h1v1h-1zM189 324h1v1h-1zM166 333h1v1h-1zM186 333h1v1h-1zM193 333h1v1h-1zM204 333h1v1h-1zM174 330h1v1h-1zM182 330h1v1h-1zM187 330h1v1h-1zM191 330h1v1h-1zM195 330h1v1h-1zM203 330h1v1h-1zM177 322h1v1h-1zM193 322h1v1h-1zM175 326h1v1h-1zM195 326h1v1h-1zM204 326h1v1h-1zM171 332h1v1h-1zM184 332h1v1h-1zM192 329h2v1h-2zM243 329h2v1h-2zM189 319h1v1h-1zM239 319h1v1h-1zM169 336h1v1h-1zM177 336h1v1h-1zM188 341h1v1h-1zM187 334h1v1h-1zM205 337h1v1h-1zM193 318h1v1h-1zM238 318h1v1h-1zM242 303h1v1h-1zM247 303h2v1h-2zM242 304h1v1h-1zM244 304h1v1h-1zM239 301h1v1h-1zM242 301h3v1h-3zM237 302h2v1h-2zM241 302h1v1h-1zM243 302h1v1h-1zM247 308h1v1h-1zM244 305h1v1h-1zM247 305h1v1h-1zM244 307h1v1h-1zM251 296h1v1h-1zM254 300h1v1h-1zM232 320h1v1h-1zM235 320h1v1h-1z" fill="#666"/><path d="M182 325h1v1h-1zM185 325h1v1h-1zM195 325h1v1h-1zM202 325h1v1h-1zM180 330h1v1h-1zM242 330h1v1h-1zM180 329h1v1h-1zM202 329h1v1h-1zM189 328h1v1h-1zM188 326h2v1h-2zM191 326h1v1h-1zM193 326h1v1h-1zM180 324h1v1h-1zM183 324h1v1h-1zM187 324h1v1h-1zM170 337h1v1h-1zM186 338h1v1h-1zM240 301h1v1h-1zM248 304h1v1h-1zM242 300h1v1h-1zM240 302h1v1h-1zM245 302h1v1h-1zM245 303h1v1h-1z" fill="#3a3a3a"/></g>
<rect x="163.0" y="271.0" width="114.4" height="94.7" fill="none" stroke="#000" stroke-width="1.7"/>
<line x1="222.9" y1="271.0" x2="222.9" y2="365.7" stroke="#000" stroke-width="1.5"/>
<line x1="163.0" y1="315.5" x2="277.4" y2="315.5" stroke="#000" stroke-width="1.5"/>
<line x1="185.8" y1="365.7" x2="185.8" y2="371.7" stroke="#000" stroke-width="1.5"/>
<text x="177.3" y="381.7" font-size="10.9" fill="#000">10<tspan font-size="7" dy="-3.9">0</tspan></text>
<line x1="215.9" y1="365.7" x2="215.9" y2="371.7" stroke="#000" stroke-width="1.5"/>
<text x="207.4" y="381.7" font-size="10.9" fill="#000">10<tspan font-size="7" dy="-3.9">1</tspan></text>
<line x1="246.0" y1="365.7" x2="246.0" y2="371.7" stroke="#000" stroke-width="1.5"/>
<text x="237.5" y="381.7" font-size="10.9" fill="#000">10<tspan font-size="7" dy="-3.9">2</tspan></text>
<line x1="276.1" y1="365.7" x2="276.1" y2="371.7" stroke="#000" stroke-width="1.5"/>
<text x="267.6" y="381.7" font-size="10.9" fill="#000">10<tspan font-size="7" dy="-3.9">3</tspan></text>
<text x="212.8" y="264.7" font-size="12.6" font-weight="bold" fill="#000">737</text>
<text x="273.2" y="287.2" font-size="12.5" font-weight="bold" text-anchor="end" fill="#000">14%</text>
<text x="274.2" y="358.6" font-size="12.5" font-weight="bold" text-anchor="end" fill="#000">14%</text>
<g filter="url(#soft)"><path d="M285 333h1v1h-1zM294 333h1v1h-1zM296 333h1v1h-1zM304 333h1v1h-1zM306 333h1v1h-1zM310 333h1v1h-1zM321 333h1v1h-1zM349 333h1v1h-1zM351 333h1v1h-1zM357 333h1v1h-1zM289 328h2v1h-2zM293 328h1v1h-1zM300 328h1v1h-1zM302 328h1v1h-1zM304 328h1v1h-1zM309 328h3v1h-3zM313 328h2v1h-2zM317 328h1v1h-1zM320 328h2v1h-2zM323 328h1v1h-1zM326 328h1v1h-1zM344 328h1v1h-1zM347 328h1v1h-1zM349 328h1v1h-1zM351 328h1v1h-1zM356 328h2v1h-2zM359 328h1v1h-1zM294 325h1v1h-1zM300 325h2v1h-2zM303 325h2v1h-2zM306 325h3v1h-3zM310 325h2v1h-2zM319 325h1v1h-1zM322 325h1v1h-1zM346 325h1v1h-1zM351 325h1v1h-1zM290 320h2v1h-2zM303 320h1v1h-1zM305 320h1v1h-1zM307 320h1v1h-1zM312 320h1v1h-1zM319 320h1v1h-1zM323 320h1v1h-1zM341 320h1v1h-1zM350 320h1v1h-1zM354 320h1v1h-1zM358 320h1v1h-1zM295 318h2v1h-2zM299 318h1v1h-1zM304 318h1v1h-1zM312 318h1v1h-1zM354 318h1v1h-1zM291 321h1v1h-1zM294 321h2v1h-2zM299 321h1v1h-1zM302 321h1v1h-1zM306 321h2v1h-2zM309 321h1v1h-1zM322 321h1v1h-1zM336 321h1v1h-1zM340 321h1v1h-1zM355 321h2v1h-2zM286 326h1v1h-1zM289 326h1v1h-1zM291 326h4v1h-4zM300 326h2v1h-2zM314 326h1v1h-1zM316 326h1v1h-1zM320 326h1v1h-1zM323 326h1v1h-1zM341 326h2v1h-2zM344 326h2v1h-2zM349 326h1v1h-1zM352 326h2v1h-2zM286 319h1v1h-1zM293 319h1v1h-1zM295 319h1v1h-1zM299 319h1v1h-1zM301 319h1v1h-1zM306 319h1v1h-1zM347 319h1v1h-1zM293 334h3v1h-3zM297 334h1v1h-1zM299 334h1v1h-1zM302 334h2v1h-2zM307 334h1v1h-1zM309 334h3v1h-3zM320 334h3v1h-3zM339 334h1v1h-1zM347 334h1v1h-1zM352 334h1v1h-1zM354 334h1v1h-1zM284 327h1v1h-1zM286 327h1v1h-1zM292 327h1v1h-1zM295 327h2v1h-2zM315 327h1v1h-1zM319 327h2v1h-2zM322 327h1v1h-1zM324 327h1v1h-1zM327 327h1v1h-1zM329 327h1v1h-1zM343 327h1v1h-1zM346 327h1v1h-1zM358 327h2v1h-2zM285 329h1v1h-1zM290 329h2v1h-2zM293 329h2v1h-2zM298 329h1v1h-1zM302 329h1v1h-1zM305 329h1v1h-1zM309 329h3v1h-3zM313 329h1v1h-1zM315 329h3v1h-3zM320 329h1v1h-1zM325 329h1v1h-1zM327 329h1v1h-1zM351 329h2v1h-2zM357 329h1v1h-1zM360 329h2v1h-2zM283 330h2v1h-2zM291 330h1v1h-1zM295 330h1v1h-1zM297 330h1v1h-1zM299 330h1v1h-1zM301 330h3v1h-3zM307 330h1v1h-1zM309 330h1v1h-1zM311 330h1v1h-1zM313 330h1v1h-1zM316 330h1v1h-1zM318 330h1v1h-1zM345 330h1v1h-1zM347 330h1v1h-1zM353 330h1v1h-1zM355 330h1v1h-1zM358 330h2v1h-2zM364 330h1v1h-1zM291 324h2v1h-2zM296 324h1v1h-1zM301 324h1v1h-1zM303 324h1v1h-1zM327 324h1v1h-1zM345 324h1v1h-1zM349 324h2v1h-2zM352 324h1v1h-1zM354 324h1v1h-1zM359 324h1v1h-1zM290 323h2v1h-2zM295 323h1v1h-1zM299 323h1v1h-1zM305 323h1v1h-1zM307 323h2v1h-2zM310 323h1v1h-1zM312 323h1v1h-1zM315 323h1v1h-1zM318 323h1v1h-1zM323 323h1v1h-1zM330 323h2v1h-2zM333 323h1v1h-1zM339 323h1v1h-1zM345 323h2v1h-2zM349 323h2v1h-2zM354 323h1v1h-1zM359 323h1v1h-1zM285 322h1v1h-1zM288 322h2v1h-2zM293 322h1v1h-1zM301 322h3v1h-3zM305 322h1v1h-1zM309 322h1v1h-1zM315 322h1v1h-1zM348 322h1v1h-1zM357 322h1v1h-1zM360 322h1v1h-1zM288 331h1v1h-1zM290 331h3v1h-3zM295 331h1v1h-1zM301 331h1v1h-1zM305 331h2v1h-2zM308 331h1v1h-1zM310 331h1v1h-1zM312 331h1v1h-1zM319 331h1v1h-1zM322 331h1v1h-1zM344 331h1v1h-1zM347 331h1v1h-1zM352 331h1v1h-1zM296 332h1v1h-1zM309 332h1v1h-1zM313 332h2v1h-2zM320 332h2v1h-2zM327 332h1v1h-1zM330 332h1v1h-1zM336 332h1v1h-1zM341 332h1v1h-1zM343 332h1v1h-1zM346 332h2v1h-2zM365 332h1v1h-1zM289 338h1v1h-1zM303 338h1v1h-1zM313 338h2v1h-2zM325 338h1v1h-1zM345 338h2v1h-2zM282 317h1v1h-1zM293 317h1v1h-1zM299 317h1v1h-1zM306 317h2v1h-2zM310 317h1v1h-1zM312 317h1v1h-1zM324 317h1v1h-1zM348 317h1v1h-1zM357 317h1v1h-1zM294 335h1v1h-1zM320 335h1v1h-1zM328 335h1v1h-1zM343 335h1v1h-1zM357 335h1v1h-1zM305 339h1v1h-1zM313 339h1v1h-1zM319 339h1v1h-1zM324 339h1v1h-1zM342 339h1v1h-1zM288 315h1v1h-1zM304 315h2v1h-2zM345 315h1v1h-1zM349 315h1v1h-1zM352 315h1v1h-1zM310 337h1v1h-1zM318 337h1v1h-1zM320 337h1v1h-1zM353 337h1v1h-1zM286 316h1v1h-1zM311 316h1v1h-1zM346 316h1v1h-1zM357 316h1v1h-1zM359 316h1v1h-1zM289 342h1v1h-1zM315 342h1v1h-1zM320 342h1v1h-1zM352 342h1v1h-1zM307 336h1v1h-1zM310 336h1v1h-1zM337 336h1v1h-1zM347 336h1v1h-1zM360 336h1v1h-1zM366 336h1v1h-1zM291 346h1v1h-1zM295 346h1v1h-1zM310 346h1v1h-1zM298 345h1v1h-1zM288 349h1v1h-1zM321 349h1v1h-1zM324 351h1v1h-1zM324 347h1v1h-1zM304 348h1v1h-1zM338 301h1v1h-1zM347 301h4v1h-4zM353 301h1v1h-1zM363 301h2v1h-2zM370 301h1v1h-1zM374 301h1v1h-1zM348 302h1v1h-1zM350 302h1v1h-1zM354 302h2v1h-2zM357 302h1v1h-1zM361 302h3v1h-3zM374 302h1v1h-1zM344 300h1v1h-1zM346 300h1v1h-1zM352 300h1v1h-1zM362 300h1v1h-1zM367 300h2v1h-2zM372 300h1v1h-1zM375 300h1v1h-1zM340 306h1v1h-1zM355 306h2v1h-2zM360 306h3v1h-3zM367 306h2v1h-2zM341 299h1v1h-1zM353 299h1v1h-1zM357 299h1v1h-1zM359 299h1v1h-1zM364 299h1v1h-1zM368 299h1v1h-1zM355 295h1v1h-1zM358 295h2v1h-2zM364 295h1v1h-1zM347 305h1v1h-1zM350 305h1v1h-1zM358 305h1v1h-1zM360 305h1v1h-1zM363 305h2v1h-2zM366 305h1v1h-1zM369 305h1v1h-1zM361 309h1v1h-1zM368 309h1v1h-1zM351 308h3v1h-3zM356 308h2v1h-2zM361 308h1v1h-1zM365 308h1v1h-1zM338 297h1v1h-1zM346 297h1v1h-1zM348 297h2v1h-2zM364 297h1v1h-1zM367 297h1v1h-1zM337 311h1v1h-1zM345 311h1v1h-1zM361 311h1v1h-1zM370 311h1v1h-1zM350 310h1v1h-1zM354 310h1v1h-1zM372 310h1v1h-1zM362 293h1v1h-1zM354 303h2v1h-2zM364 303h1v1h-1zM368 303h1v1h-1zM344 304h1v1h-1zM351 304h1v1h-1zM355 304h1v1h-1zM358 304h1v1h-1zM361 304h1v1h-1zM365 304h1v1h-1zM354 312h1v1h-1zM359 312h1v1h-1zM365 312h1v1h-1zM387 312h1v1h-1zM353 294h1v1h-1zM357 294h1v1h-1zM370 294h1v1h-1zM349 307h1v1h-1zM358 307h1v1h-1zM360 307h1v1h-1zM365 307h1v1h-1zM366 314h1v1h-1zM342 313h1v1h-1zM351 313h1v1h-1zM350 298h1v1h-1zM354 298h1v1h-1zM358 298h1v1h-1zM361 298h1v1h-1zM365 298h1v1h-1zM350 296h1v1h-1zM354 296h1v1h-1zM347 341h1v1h-1zM353 340h1v1h-1zM343 343h1v1h-1zM334 291h1v1h-1zM381 361h1v1h-1z" fill="#9a9a9a"/><path d="M291 328h1v1h-1zM299 328h1v1h-1zM303 328h1v1h-1zM305 328h1v1h-1zM312 328h1v1h-1zM315 328h2v1h-2zM355 328h1v1h-1zM358 328h1v1h-1zM300 330h1v1h-1zM304 330h1v1h-1zM315 330h1v1h-1zM319 330h1v1h-1zM329 330h1v1h-1zM352 330h1v1h-1zM354 330h1v1h-1zM296 329h2v1h-2zM299 329h1v1h-1zM301 329h1v1h-1zM303 329h1v1h-1zM307 329h1v1h-1zM312 329h1v1h-1zM298 322h2v1h-2zM312 322h1v1h-1zM298 325h1v1h-1zM309 325h1v1h-1zM313 325h1v1h-1zM317 325h1v1h-1zM297 326h1v1h-1zM302 326h1v1h-1zM306 326h2v1h-2zM309 326h1v1h-1zM311 326h3v1h-3zM326 326h1v1h-1zM303 323h1v1h-1zM306 323h1v1h-1zM311 323h1v1h-1zM317 323h1v1h-1zM353 323h1v1h-1zM306 324h2v1h-2zM309 324h1v1h-1zM358 324h1v1h-1zM291 327h1v1h-1zM294 327h1v1h-1zM298 327h4v1h-4zM305 327h1v1h-1zM307 327h1v1h-1zM311 327h1v1h-1zM349 327h1v1h-1zM314 335h1v1h-1zM350 335h1v1h-1zM304 331h1v1h-1zM351 331h1v1h-1zM308 337h1v1h-1zM296 336h1v1h-1zM312 336h1v1h-1zM300 332h1v1h-1zM304 332h1v1h-1zM356 332h1v1h-1zM351 300h1v1h-1zM351 306h1v1h-1zM364 306h1v1h-1zM356 311h1v1h-1zM352 303h1v1h-1zM362 303h1v1h-1zM350 309h1v1h-1zM353 309h1v1h-1zM363 309h1v1h-1zM354 304h1v1h-1zM347 318h1v1h-1zM353 320h1v1h-1zM353 319h1v1h-1zM350 338h1v1h-1z" fill="#666"/><path d="M296 322h1v1h-1zM311 322h1v1h-1zM302 327h1v1h-1zM306 327h1v1h-1zM313 327h2v1h-2zM299 326h1v1h-1zM303 326h2v1h-2zM310 326h1v1h-1zM299 324h1v1h-1zM308 324h1v1h-1zM312 324h1v1h-1zM299 325h1v1h-1zM312 325h1v1h-1zM296 328h1v1h-1zM307 328h1v1h-1zM300 331h1v1h-1zM307 331h1v1h-1zM297 333h1v1h-1zM292 330h1v1h-1zM305 330h1v1h-1zM359 301h1v1h-1zM360 302h1v1h-1z" fill="#3a3a3a"/><path d="M304 329h1v1h-1zM304 327h1v1h-1z" fill="#000"/></g>
<rect x="281.1" y="271.0" width="113.2" height="94.7" fill="none" stroke="#000" stroke-width="1.7"/>
<line x1="340.6" y1="271.0" x2="340.6" y2="365.7" stroke="#000" stroke-width="1.5"/>
<line x1="281.1" y1="315.5" x2="394.3" y2="315.5" stroke="#000" stroke-width="1.5"/>
<line x1="303.9" y1="365.7" x2="303.9" y2="371.7" stroke="#000" stroke-width="1.5"/>
<text x="295.4" y="381.7" font-size="10.9" fill="#000">10<tspan font-size="7" dy="-3.9">0</tspan></text>
<line x1="334.0" y1="365.7" x2="334.0" y2="371.7" stroke="#000" stroke-width="1.5"/>
<text x="325.5" y="381.7" font-size="10.9" fill="#000">10<tspan font-size="7" dy="-3.9">1</tspan></text>
<line x1="364.1" y1="365.7" x2="364.1" y2="371.7" stroke="#000" stroke-width="1.5"/>
<text x="355.6" y="381.7" font-size="10.9" fill="#000">10<tspan font-size="7" dy="-3.9">2</tspan></text>
<line x1="394.2" y1="365.7" x2="394.2" y2="371.7" stroke="#000" stroke-width="1.5"/>
<text x="385.7" y="381.7" font-size="10.9" fill="#000">10<tspan font-size="7" dy="-3.9">3</tspan></text>
<text x="321.3" y="264.7" font-size="12.6" font-weight="bold" fill="#000">ASP</text>
<text x="388.2" y="287.2" font-size="12.5" font-weight="bold" text-anchor="end" fill="#000">12%</text>
<text x="390.0" y="358.6" font-size="12.5" font-weight="bold" text-anchor="end" fill="#000">18%</text>
<g filter="url(#soft)"><path d="M401 328h1v1h-1zM404 328h1v1h-1zM406 328h1v1h-1zM412 328h1v1h-1zM414 328h1v1h-1zM417 328h1v1h-1zM420 328h1v1h-1zM422 328h1v1h-1zM424 328h1v1h-1zM428 328h1v1h-1zM434 328h1v1h-1zM436 328h1v1h-1zM439 328h2v1h-2zM460 328h1v1h-1zM470 328h1v1h-1zM473 328h1v1h-1zM475 328h1v1h-1zM484 328h1v1h-1zM486 328h1v1h-1zM488 328h1v1h-1zM399 324h1v1h-1zM404 324h1v1h-1zM409 324h1v1h-1zM413 324h1v1h-1zM415 324h1v1h-1zM417 324h1v1h-1zM421 324h5v1h-5zM427 324h1v1h-1zM429 324h1v1h-1zM431 324h2v1h-2zM436 324h3v1h-3zM459 324h1v1h-1zM469 324h1v1h-1zM473 324h1v1h-1zM475 324h1v1h-1zM479 324h1v1h-1zM403 322h1v1h-1zM413 322h1v1h-1zM415 322h1v1h-1zM419 322h2v1h-2zM429 322h1v1h-1zM433 322h1v1h-1zM437 322h1v1h-1zM439 322h1v1h-1zM448 322h1v1h-1zM451 322h1v1h-1zM462 322h1v1h-1zM465 322h1v1h-1zM402 331h1v1h-1zM405 331h2v1h-2zM408 331h1v1h-1zM420 331h1v1h-1zM425 331h1v1h-1zM427 331h1v1h-1zM434 331h2v1h-2zM438 331h1v1h-1zM440 331h2v1h-2zM454 331h1v1h-1zM461 331h2v1h-2zM464 331h1v1h-1zM467 331h3v1h-3zM476 331h1v1h-1zM409 325h1v1h-1zM415 325h4v1h-4zM423 325h1v1h-1zM425 325h1v1h-1zM428 325h3v1h-3zM432 325h1v1h-1zM435 325h2v1h-2zM440 325h1v1h-1zM451 325h1v1h-1zM454 325h1v1h-1zM458 325h1v1h-1zM463 325h1v1h-1zM479 325h2v1h-2zM487 325h1v1h-1zM403 329h1v1h-1zM405 329h1v1h-1zM417 329h1v1h-1zM424 329h2v1h-2zM427 329h3v1h-3zM431 329h1v1h-1zM433 329h1v1h-1zM435 329h1v1h-1zM437 329h1v1h-1zM441 329h1v1h-1zM445 329h1v1h-1zM448 329h1v1h-1zM454 329h1v1h-1zM457 329h1v1h-1zM459 329h1v1h-1zM461 329h1v1h-1zM468 329h1v1h-1zM471 329h1v1h-1zM474 329h1v1h-1zM476 329h2v1h-2zM405 327h1v1h-1zM411 327h1v1h-1zM414 327h1v1h-1zM416 327h1v1h-1zM418 327h1v1h-1zM420 327h1v1h-1zM423 327h2v1h-2zM426 327h2v1h-2zM429 327h1v1h-1zM433 327h1v1h-1zM435 327h2v1h-2zM438 327h1v1h-1zM458 327h1v1h-1zM460 327h2v1h-2zM467 327h1v1h-1zM469 327h1v1h-1zM473 327h1v1h-1zM485 327h1v1h-1zM410 323h1v1h-1zM414 323h3v1h-3zM418 323h1v1h-1zM426 323h1v1h-1zM428 323h1v1h-1zM437 323h1v1h-1zM439 323h1v1h-1zM446 323h1v1h-1zM469 323h1v1h-1zM475 323h1v1h-1zM405 334h1v1h-1zM408 334h1v1h-1zM413 334h1v1h-1zM416 334h2v1h-2zM420 334h2v1h-2zM425 334h1v1h-1zM435 334h1v1h-1zM446 334h1v1h-1zM455 334h1v1h-1zM458 334h1v1h-1zM478 334h1v1h-1zM484 334h1v1h-1zM405 320h1v1h-1zM425 320h1v1h-1zM438 320h1v1h-1zM462 320h1v1h-1zM468 320h1v1h-1zM475 320h1v1h-1zM412 321h1v1h-1zM415 321h1v1h-1zM420 321h1v1h-1zM426 321h1v1h-1zM432 321h1v1h-1zM438 321h1v1h-1zM462 321h1v1h-1zM465 321h1v1h-1zM470 321h2v1h-2zM485 321h1v1h-1zM401 330h1v1h-1zM404 330h2v1h-2zM408 330h1v1h-1zM414 330h1v1h-1zM420 330h2v1h-2zM424 330h2v1h-2zM427 330h1v1h-1zM429 330h2v1h-2zM435 330h1v1h-1zM437 330h1v1h-1zM452 330h1v1h-1zM454 330h1v1h-1zM457 330h1v1h-1zM459 330h1v1h-1zM469 330h1v1h-1zM472 330h1v1h-1zM474 330h1v1h-1zM477 330h1v1h-1zM480 330h1v1h-1zM405 332h3v1h-3zM411 332h1v1h-1zM420 332h2v1h-2zM424 332h1v1h-1zM429 332h1v1h-1zM432 332h2v1h-2zM435 332h1v1h-1zM439 332h1v1h-1zM465 332h1v1h-1zM478 332h2v1h-2zM406 326h1v1h-1zM414 326h1v1h-1zM416 326h1v1h-1zM421 326h1v1h-1zM425 326h1v1h-1zM427 326h1v1h-1zM432 326h4v1h-4zM438 326h2v1h-2zM442 326h1v1h-1zM457 326h1v1h-1zM462 326h1v1h-1zM468 326h1v1h-1zM470 326h1v1h-1zM474 326h1v1h-1zM478 326h1v1h-1zM481 326h1v1h-1zM405 333h3v1h-3zM415 333h1v1h-1zM418 333h1v1h-1zM420 333h1v1h-1zM422 333h2v1h-2zM426 333h1v1h-1zM429 333h1v1h-1zM433 333h1v1h-1zM435 333h1v1h-1zM437 333h1v1h-1zM443 333h1v1h-1zM461 333h1v1h-1zM472 333h1v1h-1zM399 335h1v1h-1zM402 335h2v1h-2zM408 335h1v1h-1zM410 335h1v1h-1zM413 335h2v1h-2zM418 335h1v1h-1zM420 335h1v1h-1zM425 335h1v1h-1zM429 335h1v1h-1zM431 335h1v1h-1zM440 335h1v1h-1zM445 335h1v1h-1zM447 335h1v1h-1zM465 335h1v1h-1zM479 335h1v1h-1zM481 335h2v1h-2zM489 335h1v1h-1zM415 319h2v1h-2zM425 319h1v1h-1zM434 319h1v1h-1zM453 319h1v1h-1zM469 319h1v1h-1zM474 319h1v1h-1zM476 319h1v1h-1zM402 338h1v1h-1zM411 338h1v1h-1zM416 338h1v1h-1zM421 338h1v1h-1zM424 338h1v1h-1zM427 338h1v1h-1zM442 338h1v1h-1zM451 338h1v1h-1zM472 338h1v1h-1zM486 338h1v1h-1zM408 337h1v1h-1zM416 337h1v1h-1zM427 337h2v1h-2zM430 337h1v1h-1zM435 337h1v1h-1zM439 337h1v1h-1zM441 337h1v1h-1zM448 337h1v1h-1zM466 337h1v1h-1zM470 337h1v1h-1zM472 337h1v1h-1zM407 336h1v1h-1zM411 336h1v1h-1zM417 336h2v1h-2zM421 336h1v1h-1zM424 336h2v1h-2zM430 336h1v1h-1zM437 336h1v1h-1zM440 336h1v1h-1zM446 336h1v1h-1zM462 336h1v1h-1zM467 336h1v1h-1zM430 317h2v1h-2zM436 317h1v1h-1zM468 317h1v1h-1zM414 342h1v1h-1zM403 340h1v1h-1zM409 340h1v1h-1zM411 340h1v1h-1zM413 340h1v1h-1zM416 340h1v1h-1zM425 340h1v1h-1zM430 340h1v1h-1zM466 340h1v1h-1zM413 315h1v1h-1zM422 315h1v1h-1zM451 315h1v1h-1zM454 315h1v1h-1zM420 314h1v1h-1zM436 344h1v1h-1zM444 344h1v1h-1zM449 344h1v1h-1zM445 308h1v1h-1zM457 308h2v1h-2zM465 308h1v1h-1zM468 308h2v1h-2zM471 308h1v1h-1zM473 308h2v1h-2zM483 308h1v1h-1zM419 347h1v1h-1zM451 347h1v1h-1zM425 311h1v1h-1zM463 311h1v1h-1zM476 311h1v1h-1zM404 339h1v1h-1zM418 339h3v1h-3zM435 339h1v1h-1zM440 339h1v1h-1zM476 339h1v1h-1zM400 318h1v1h-1zM462 318h1v1h-1zM466 318h1v1h-1zM470 318h1v1h-1zM480 318h1v1h-1zM400 316h1v1h-1zM457 316h1v1h-1zM468 316h1v1h-1zM470 316h1v1h-1zM473 316h1v1h-1zM433 353h1v1h-1zM423 350h1v1h-1zM440 341h1v1h-1zM445 348h1v1h-1zM408 346h1v1h-1zM463 304h1v1h-1zM474 304h1v1h-1zM477 304h1v1h-1zM484 304h1v1h-1zM463 305h1v1h-1zM465 305h1v1h-1zM468 305h1v1h-1zM473 305h4v1h-4zM484 305h1v1h-1zM466 303h1v1h-1zM469 303h1v1h-1zM473 303h1v1h-1zM478 303h1v1h-1zM460 298h1v1h-1zM465 298h2v1h-2zM474 298h1v1h-1zM480 298h1v1h-1zM483 298h1v1h-1zM460 309h1v1h-1zM482 309h1v1h-1zM486 309h1v1h-1zM424 299h1v1h-1zM466 299h1v1h-1zM474 299h1v1h-1zM476 299h1v1h-1zM480 299h3v1h-3zM470 306h1v1h-1zM473 306h1v1h-1zM477 306h1v1h-1zM480 306h1v1h-1zM466 302h1v1h-1zM469 302h3v1h-3zM474 302h1v1h-1zM476 302h1v1h-1zM480 302h1v1h-1zM463 310h1v1h-1zM469 310h1v1h-1zM471 310h1v1h-1zM474 310h1v1h-1zM481 310h1v1h-1zM473 288h1v1h-1zM473 293h1v1h-1zM459 294h1v1h-1zM459 300h1v1h-1zM465 300h1v1h-1zM469 300h1v1h-1zM485 300h1v1h-1zM465 297h1v1h-1zM467 297h1v1h-1zM471 297h2v1h-2zM478 297h1v1h-1zM481 297h1v1h-1zM483 297h1v1h-1zM465 307h1v1h-1zM473 307h1v1h-1zM475 307h1v1h-1zM472 313h2v1h-2zM470 301h1v1h-1zM478 301h1v1h-1zM475 296h1v1h-1zM472 295h1v1h-1zM479 295h1v1h-1zM478 345h1v1h-1zM488 351h1v1h-1zM497 362h1v1h-1zM494 361h1v1h-1z" fill="#9a9a9a"/><path d="M402 328h1v1h-1zM410 328h2v1h-2zM415 328h2v1h-2zM419 328h1v1h-1zM421 328h1v1h-1zM425 328h3v1h-3zM441 328h1v1h-1zM476 328h2v1h-2zM406 325h1v1h-1zM413 325h1v1h-1zM419 325h3v1h-3zM424 325h1v1h-1zM427 325h1v1h-1zM418 332h1v1h-1zM423 332h1v1h-1zM431 332h1v1h-1zM434 332h1v1h-1zM444 332h1v1h-1zM407 327h1v1h-1zM412 327h1v1h-1zM419 327h1v1h-1zM422 327h1v1h-1zM432 327h1v1h-1zM420 326h1v1h-1zM423 326h1v1h-1zM428 326h1v1h-1zM475 326h1v1h-1zM428 331h2v1h-2zM481 331h1v1h-1zM410 330h1v1h-1zM415 330h1v1h-1zM426 330h1v1h-1zM434 330h1v1h-1zM412 329h1v1h-1zM430 329h1v1h-1zM408 323h1v1h-1zM427 323h1v1h-1zM431 323h1v1h-1zM468 323h1v1h-1zM478 323h1v1h-1zM432 322h1v1h-1zM416 333h1v1h-1zM439 333h1v1h-1zM414 334h1v1h-1zM419 334h1v1h-1zM422 334h1v1h-1zM428 334h1v1h-1zM432 334h1v1h-1zM428 335h1v1h-1zM420 320h1v1h-1zM476 320h1v1h-1zM434 324h1v1h-1zM443 324h1v1h-1zM425 342h1v1h-1zM413 336h1v1h-1zM469 301h1v1h-1zM480 301h1v1h-1zM465 302h1v1h-1zM467 302h2v1h-2zM479 302h1v1h-1zM470 304h1v1h-1zM473 304h1v1h-1zM475 304h1v1h-1zM463 303h1v1h-1zM468 303h1v1h-1zM471 303h1v1h-1zM477 303h1v1h-1zM480 303h1v1h-1zM475 306h1v1h-1zM467 298h1v1h-1zM476 298h1v1h-1zM475 294h1v1h-1zM466 300h2v1h-2zM473 300h1v1h-1zM478 300h1v1h-1zM474 296h1v1h-1z" fill="#666"/><path d="M423 331h1v1h-1zM419 326h1v1h-1zM429 326h1v1h-1zM466 326h1v1h-1zM415 327h1v1h-1zM417 327h1v1h-1zM421 327h1v1h-1zM431 328h2v1h-2zM433 324h1v1h-1zM415 329h1v1h-1zM420 329h1v1h-1zM424 323h1v1h-1zM464 301h1v1h-1zM468 333h1v1h-1z" fill="#3a3a3a"/><path d="M431 330h1v1h-1zM437 328h1v1h-1z" fill="#000"/></g>
<rect x="398.5" y="271.0" width="113.3" height="94.7" fill="none" stroke="#000" stroke-width="1.7"/>
<line x1="458.0" y1="271.0" x2="458.0" y2="365.7" stroke="#000" stroke-width="1.5"/>
<line x1="398.5" y1="315.5" x2="511.8" y2="315.5" stroke="#000" stroke-width="1.5"/>
<line x1="421.3" y1="365.7" x2="421.3" y2="371.7" stroke="#000" stroke-width="1.5"/>
<text x="412.8" y="381.7" font-size="10.9" fill="#000">10<tspan font-size="7" dy="-3.9">0</tspan></text>
<line x1="451.4" y1="365.7" x2="451.4" y2="371.7" stroke="#000" stroke-width="1.5"/>
<text x="442.9" y="381.7" font-size="10.9" fill="#000">10<tspan font-size="7" dy="-3.9">1</tspan></text>
<line x1="481.5" y1="365.7" x2="481.5" y2="371.7" stroke="#000" stroke-width="1.5"/>
<text x="473.0" y="381.7" font-size="10.9" fill="#000">10<tspan font-size="7" dy="-3.9">2</tspan></text>
<line x1="511.6" y1="365.7" x2="511.6" y2="371.7" stroke="#000" stroke-width="1.5"/>
<text x="503.1" y="381.7" font-size="10.9" fill="#000">10<tspan font-size="7" dy="-3.9">3</tspan></text>
<text x="431.0" y="264.7" font-size="12.9" font-weight="bold" fill="#000">737+ASP</text>
<text x="505.8" y="287.2" font-size="12.5" font-weight="bold" text-anchor="end" fill="#000">15%</text>
<text x="506.9" y="358.6" font-size="12.5" font-weight="bold" text-anchor="end" fill="#000">16%</text>
<text transform="translate(16.9,314.4) rotate(-90)" font-size="12.6" font-weight="bold" fill="#000">PI</text>
<text x="231.3" y="400.0" font-size="12.7" font-weight="bold" fill="#000">Annexin V-FITC</text>
<text x="46.6" y="430.0" font-size="12.7" font-weight="bold" fill="#000">COG-LL-317</text>
<g filter="url(#soft)"><path d="M47 529h1v1h-1zM51 529h1v1h-1zM53 529h1v1h-1zM57 529h1v1h-1zM67 529h1v1h-1zM69 529h2v1h-2zM74 529h2v1h-2zM84 529h1v1h-1zM89 529h1v1h-1zM92 529h3v1h-3zM105 529h1v1h-1zM109 529h2v1h-2zM119 529h1v1h-1zM48 528h1v1h-1zM50 528h1v1h-1zM56 528h3v1h-3zM62 528h1v1h-1zM64 528h1v1h-1zM74 528h1v1h-1zM77 528h1v1h-1zM79 528h1v1h-1zM87 528h1v1h-1zM91 528h1v1h-1zM94 528h1v1h-1zM98 528h1v1h-1zM103 528h3v1h-3zM113 528h1v1h-1zM48 514h1v1h-1zM54 514h1v1h-1zM56 514h1v1h-1zM59 514h2v1h-2zM63 514h3v1h-3zM68 514h2v1h-2zM75 514h1v1h-1zM77 514h2v1h-2zM81 514h2v1h-2zM86 514h2v1h-2zM90 514h1v1h-1zM95 514h3v1h-3zM106 514h1v1h-1zM109 514h1v1h-1zM123 514h1v1h-1zM47 526h3v1h-3zM51 526h1v1h-1zM54 526h2v1h-2zM81 526h1v1h-1zM86 526h1v1h-1zM88 526h1v1h-1zM92 526h1v1h-1zM94 526h2v1h-2zM101 526h1v1h-1zM103 526h5v1h-5zM110 526h1v1h-1zM114 526h1v1h-1zM119 526h2v1h-2zM46 516h1v1h-1zM52 516h1v1h-1zM56 516h1v1h-1zM59 516h1v1h-1zM84 516h1v1h-1zM88 516h1v1h-1zM92 516h2v1h-2zM96 516h1v1h-1zM98 516h1v1h-1zM107 516h1v1h-1zM111 516h1v1h-1zM50 518h2v1h-2zM53 518h1v1h-1zM58 518h2v1h-2zM64 518h1v1h-1zM66 518h1v1h-1zM73 518h1v1h-1zM92 518h1v1h-1zM95 518h1v1h-1zM97 518h1v1h-1zM105 518h1v1h-1zM107 518h1v1h-1zM110 518h2v1h-2zM116 518h1v1h-1zM48 534h1v1h-1zM56 534h1v1h-1zM58 534h1v1h-1zM65 534h7v1h-7zM73 534h3v1h-3zM77 534h1v1h-1zM80 534h1v1h-1zM83 534h2v1h-2zM86 534h6v1h-6zM103 534h1v1h-1zM110 534h1v1h-1zM48 521h1v1h-1zM50 521h2v1h-2zM56 521h1v1h-1zM61 521h1v1h-1zM95 521h1v1h-1zM98 521h3v1h-3zM102 521h1v1h-1zM105 521h2v1h-2zM110 521h1v1h-1zM120 521h2v1h-2zM49 510h1v1h-1zM62 510h1v1h-1zM65 510h1v1h-1zM76 510h5v1h-5zM82 510h1v1h-1zM86 510h1v1h-1zM90 510h1v1h-1zM92 510h1v1h-1zM52 513h1v1h-1zM59 513h1v1h-1zM62 513h1v1h-1zM64 513h1v1h-1zM68 513h2v1h-2zM71 513h1v1h-1zM76 513h1v1h-1zM78 513h1v1h-1zM80 513h1v1h-1zM85 513h1v1h-1zM90 513h1v1h-1zM94 513h1v1h-1zM97 513h1v1h-1zM100 513h1v1h-1zM103 513h1v1h-1zM131 513h1v1h-1zM49 527h1v1h-1zM55 527h2v1h-2zM59 527h2v1h-2zM62 527h1v1h-1zM74 527h1v1h-1zM86 527h1v1h-1zM89 527h1v1h-1zM96 527h1v1h-1zM101 527h3v1h-3zM105 527h1v1h-1zM107 527h2v1h-2zM110 527h1v1h-1zM120 527h1v1h-1zM50 532h1v1h-1zM52 532h1v1h-1zM54 532h1v1h-1zM63 532h4v1h-4zM71 532h2v1h-2zM79 532h1v1h-1zM81 532h2v1h-2zM85 532h1v1h-1zM87 532h3v1h-3zM92 532h2v1h-2zM106 532h1v1h-1zM108 532h1v1h-1zM111 532h1v1h-1zM46 520h1v1h-1zM54 520h1v1h-1zM57 520h1v1h-1zM59 520h1v1h-1zM97 520h1v1h-1zM100 520h1v1h-1zM104 520h2v1h-2zM119 520h1v1h-1zM50 515h1v1h-1zM53 515h2v1h-2zM62 515h1v1h-1zM64 515h1v1h-1zM71 515h1v1h-1zM76 515h1v1h-1zM83 515h1v1h-1zM90 515h1v1h-1zM95 515h1v1h-1zM97 515h2v1h-2zM100 515h1v1h-1zM103 515h1v1h-1zM111 515h1v1h-1zM48 530h2v1h-2zM51 530h4v1h-4zM56 530h1v1h-1zM60 530h5v1h-5zM67 530h1v1h-1zM73 530h3v1h-3zM80 530h1v1h-1zM85 530h1v1h-1zM89 530h1v1h-1zM94 530h1v1h-1zM96 530h3v1h-3zM103 530h1v1h-1zM106 530h1v1h-1zM48 522h1v1h-1zM53 522h3v1h-3zM92 522h1v1h-1zM95 522h1v1h-1zM99 522h2v1h-2zM105 522h1v1h-1zM107 522h2v1h-2zM113 522h1v1h-1zM118 522h3v1h-3zM75 508h1v1h-1zM83 508h1v1h-1zM48 517h1v1h-1zM53 517h1v1h-1zM56 517h1v1h-1zM61 517h1v1h-1zM66 517h1v1h-1zM94 517h1v1h-1zM96 517h5v1h-5zM107 517h1v1h-1zM121 517h1v1h-1zM137 517h1v1h-1zM48 525h1v1h-1zM50 525h1v1h-1zM52 525h1v1h-1zM56 525h1v1h-1zM58 525h1v1h-1zM60 525h1v1h-1zM64 525h1v1h-1zM77 525h1v1h-1zM87 525h1v1h-1zM100 525h2v1h-2zM110 525h1v1h-1zM114 525h1v1h-1zM53 519h2v1h-2zM56 519h1v1h-1zM58 519h1v1h-1zM76 519h1v1h-1zM99 519h1v1h-1zM102 519h2v1h-2zM107 519h1v1h-1zM57 511h2v1h-2zM65 511h1v1h-1zM70 511h2v1h-2zM73 511h1v1h-1zM75 511h1v1h-1zM77 511h2v1h-2zM83 511h1v1h-1zM90 511h1v1h-1zM98 511h1v1h-1zM100 511h1v1h-1zM107 511h1v1h-1zM109 511h1v1h-1zM114 511h1v1h-1zM51 533h1v1h-1zM58 533h1v1h-1zM62 533h1v1h-1zM69 533h2v1h-2zM78 533h1v1h-1zM86 533h1v1h-1zM90 533h3v1h-3zM95 533h3v1h-3zM107 533h1v1h-1zM48 531h1v1h-1zM52 531h2v1h-2zM56 531h1v1h-1zM60 531h2v1h-2zM65 531h2v1h-2zM68 531h1v1h-1zM70 531h1v1h-1zM76 531h1v1h-1zM78 531h1v1h-1zM80 531h1v1h-1zM83 531h1v1h-1zM85 531h1v1h-1zM89 531h1v1h-1zM93 531h1v1h-1zM95 531h1v1h-1zM98 531h1v1h-1zM100 531h2v1h-2zM106 531h1v1h-1zM113 531h2v1h-2zM117 531h1v1h-1zM119 531h1v1h-1zM47 523h1v1h-1zM51 523h2v1h-2zM54 523h1v1h-1zM56 523h1v1h-1zM59 523h1v1h-1zM61 523h1v1h-1zM94 523h1v1h-1zM97 523h1v1h-1zM103 523h1v1h-1zM108 523h1v1h-1zM114 523h1v1h-1zM119 523h1v1h-1zM137 523h1v1h-1zM56 512h2v1h-2zM66 512h2v1h-2zM71 512h1v1h-1zM75 512h1v1h-1zM85 512h1v1h-1zM105 512h1v1h-1zM52 535h1v1h-1zM54 535h1v1h-1zM58 535h1v1h-1zM62 535h2v1h-2zM65 535h1v1h-1zM67 535h1v1h-1zM72 535h1v1h-1zM77 535h3v1h-3zM83 535h1v1h-1zM85 535h2v1h-2zM88 535h1v1h-1zM92 535h3v1h-3zM97 535h1v1h-1zM102 535h1v1h-1zM105 535h2v1h-2zM110 535h1v1h-1zM115 535h1v1h-1zM48 524h5v1h-5zM54 524h2v1h-2zM57 524h1v1h-1zM60 524h1v1h-1zM67 524h1v1h-1zM100 524h1v1h-1zM110 524h2v1h-2zM115 524h1v1h-1zM119 524h1v1h-1zM142 524h1v1h-1zM76 506h1v1h-1zM83 506h1v1h-1zM90 506h1v1h-1zM46 509h1v1h-1zM67 509h1v1h-1zM74 509h1v1h-1zM76 509h2v1h-2zM113 509h1v1h-1zM54 540h2v1h-2zM57 540h1v1h-1zM60 540h3v1h-3zM64 540h2v1h-2zM70 540h5v1h-5zM77 540h2v1h-2zM80 540h1v1h-1zM86 540h1v1h-1zM94 540h1v1h-1zM97 540h1v1h-1zM100 540h3v1h-3zM105 540h1v1h-1zM52 542h1v1h-1zM58 542h2v1h-2zM62 542h1v1h-1zM66 542h2v1h-2zM72 542h2v1h-2zM77 542h2v1h-2zM83 542h2v1h-2zM96 542h2v1h-2zM113 542h1v1h-1zM54 546h1v1h-1zM58 546h2v1h-2zM63 546h1v1h-1zM65 546h2v1h-2zM75 546h1v1h-1zM79 546h1v1h-1zM89 546h1v1h-1zM93 546h1v1h-1zM50 537h1v1h-1zM52 537h1v1h-1zM55 537h2v1h-2zM61 537h1v1h-1zM67 537h1v1h-1zM72 537h1v1h-1zM74 537h2v1h-2zM80 537h1v1h-1zM84 537h1v1h-1zM92 537h1v1h-1zM107 537h1v1h-1zM116 537h1v1h-1zM52 538h1v1h-1zM59 538h1v1h-1zM71 538h1v1h-1zM73 538h5v1h-5zM92 538h1v1h-1zM95 538h1v1h-1zM100 538h1v1h-1zM104 538h1v1h-1zM107 538h1v1h-1zM122 538h1v1h-1zM125 538h1v1h-1zM59 536h1v1h-1zM61 536h6v1h-6zM71 536h1v1h-1zM77 536h1v1h-1zM85 536h1v1h-1zM87 536h1v1h-1zM89 536h1v1h-1zM91 536h1v1h-1zM94 536h1v1h-1zM96 536h1v1h-1zM102 536h1v1h-1zM105 536h1v1h-1zM107 536h1v1h-1zM61 539h1v1h-1zM68 539h2v1h-2zM71 539h2v1h-2zM75 539h2v1h-2zM83 539h2v1h-2zM89 539h1v1h-1zM91 539h3v1h-3zM99 539h1v1h-1zM107 539h1v1h-1zM113 539h1v1h-1zM55 541h1v1h-1zM58 541h2v1h-2zM66 541h1v1h-1zM69 541h1v1h-1zM71 541h1v1h-1zM73 541h1v1h-1zM77 541h3v1h-3zM82 541h1v1h-1zM84 541h1v1h-1zM89 541h2v1h-2zM94 541h1v1h-1zM96 541h1v1h-1zM100 541h3v1h-3zM55 548h1v1h-1zM65 548h1v1h-1zM72 548h1v1h-1zM82 548h1v1h-1zM85 548h1v1h-1zM88 548h2v1h-2zM93 548h1v1h-1zM99 548h1v1h-1zM137 548h1v1h-1zM55 545h2v1h-2zM63 545h2v1h-2zM73 545h1v1h-1zM79 545h1v1h-1zM81 545h1v1h-1zM86 545h2v1h-2zM95 545h1v1h-1zM98 545h1v1h-1zM104 545h1v1h-1zM51 543h1v1h-1zM54 543h2v1h-2zM58 543h1v1h-1zM60 543h1v1h-1zM70 543h1v1h-1zM78 543h1v1h-1zM81 543h1v1h-1zM93 543h1v1h-1zM95 543h2v1h-2zM52 544h1v1h-1zM57 544h1v1h-1zM65 544h2v1h-2zM69 544h2v1h-2zM77 544h1v1h-1zM89 544h1v1h-1zM115 544h1v1h-1zM47 547h1v1h-1zM56 547h1v1h-1zM70 547h1v1h-1zM77 547h1v1h-1zM79 547h1v1h-1zM88 547h1v1h-1zM104 547h1v1h-1zM108 547h1v1h-1zM51 549h1v1h-1zM89 549h2v1h-2zM96 549h1v1h-1zM68 550h1v1h-1zM72 550h1v1h-1zM75 550h1v1h-1zM84 550h1v1h-1zM86 550h2v1h-2zM101 550h1v1h-1zM119 550h1v1h-1zM58 551h1v1h-1zM68 551h1v1h-1zM78 551h1v1h-1zM82 551h2v1h-2zM98 551h1v1h-1zM100 551h1v1h-1zM109 504h1v1h-1zM102 496h1v1h-1zM139 485h1v1h-1z" fill="#9a9a9a"/><path d="M59 528h2v1h-2zM63 528h1v1h-1zM65 528h2v1h-2zM68 528h2v1h-2zM78 528h1v1h-1zM80 528h1v1h-1zM82 528h1v1h-1zM90 528h1v1h-1zM92 528h1v1h-1zM97 528h1v1h-1zM100 528h1v1h-1zM106 528h1v1h-1zM57 517h1v1h-1zM62 517h2v1h-2zM70 517h1v1h-1zM80 517h1v1h-1zM84 517h1v1h-1zM88 517h2v1h-2zM93 517h1v1h-1zM104 517h1v1h-1zM47 514h1v1h-1zM62 514h1v1h-1zM66 514h1v1h-1zM71 514h2v1h-2zM74 514h1v1h-1zM76 514h1v1h-1zM84 514h2v1h-2zM89 514h1v1h-1zM94 514h1v1h-1zM108 514h1v1h-1zM49 520h1v1h-1zM87 520h1v1h-1zM93 520h1v1h-1zM54 516h1v1h-1zM58 516h1v1h-1zM66 516h3v1h-3zM71 516h1v1h-1zM75 516h1v1h-1zM77 516h1v1h-1zM80 516h1v1h-1zM85 516h1v1h-1zM87 516h1v1h-1zM90 516h2v1h-2zM94 516h1v1h-1zM101 516h3v1h-3zM49 521h1v1h-1zM58 521h1v1h-1zM60 521h1v1h-1zM64 521h1v1h-1zM94 521h1v1h-1zM97 521h1v1h-1zM46 515h1v1h-1zM65 515h1v1h-1zM68 515h1v1h-1zM70 515h1v1h-1zM73 515h1v1h-1zM75 515h1v1h-1zM79 515h1v1h-1zM81 515h1v1h-1zM84 515h2v1h-2zM88 515h1v1h-1zM91 515h1v1h-1zM93 515h2v1h-2zM53 524h1v1h-1zM58 524h1v1h-1zM86 524h1v1h-1zM89 524h1v1h-1zM91 524h7v1h-7zM103 524h2v1h-2zM47 525h1v1h-1zM51 525h1v1h-1zM55 525h1v1h-1zM57 525h1v1h-1zM63 525h1v1h-1zM94 525h1v1h-1zM96 525h1v1h-1zM102 525h1v1h-1zM69 510h1v1h-1zM50 522h1v1h-1zM52 522h1v1h-1zM56 522h1v1h-1zM59 522h1v1h-1zM63 522h1v1h-1zM91 522h1v1h-1zM56 518h1v1h-1zM61 518h1v1h-1zM63 518h1v1h-1zM67 518h1v1h-1zM86 518h1v1h-1zM89 518h1v1h-1zM94 518h1v1h-1zM98 518h3v1h-3zM102 518h1v1h-1zM109 518h1v1h-1zM59 512h1v1h-1zM69 512h2v1h-2zM72 512h1v1h-1zM79 512h1v1h-1zM84 512h1v1h-1zM87 512h1v1h-1zM89 512h1v1h-1zM96 512h1v1h-1zM46 523h1v1h-1zM50 523h1v1h-1zM58 523h1v1h-1zM89 523h1v1h-1zM92 523h2v1h-2zM96 523h1v1h-1zM98 523h1v1h-1zM100 523h1v1h-1zM106 523h1v1h-1zM59 519h1v1h-1zM61 519h1v1h-1zM67 519h1v1h-1zM86 519h1v1h-1zM100 519h1v1h-1zM104 519h1v1h-1zM117 519h1v1h-1zM50 526h1v1h-1zM53 526h1v1h-1zM57 526h1v1h-1zM65 526h1v1h-1zM89 526h1v1h-1zM91 526h1v1h-1zM100 526h1v1h-1zM102 526h1v1h-1zM48 527h1v1h-1zM54 527h1v1h-1zM57 527h2v1h-2zM61 527h1v1h-1zM63 527h1v1h-1zM88 527h1v1h-1zM90 527h1v1h-1zM93 527h1v1h-1zM95 527h1v1h-1zM98 527h1v1h-1zM55 530h1v1h-1zM57 530h2v1h-2zM69 530h1v1h-1zM71 530h2v1h-2zM77 530h3v1h-3zM83 530h2v1h-2zM86 530h1v1h-1zM91 530h1v1h-1zM93 530h1v1h-1zM95 530h1v1h-1zM99 530h1v1h-1zM110 530h1v1h-1zM50 529h1v1h-1zM61 529h1v1h-1zM64 529h1v1h-1zM71 529h1v1h-1zM76 529h1v1h-1zM79 529h3v1h-3zM83 529h1v1h-1zM88 529h1v1h-1zM91 529h1v1h-1zM96 529h2v1h-2zM101 529h1v1h-1zM60 533h1v1h-1zM64 533h1v1h-1zM73 533h1v1h-1zM75 533h1v1h-1zM81 533h3v1h-3zM88 533h1v1h-1zM51 511h1v1h-1zM68 511h1v1h-1zM80 511h2v1h-2zM54 531h1v1h-1zM62 531h1v1h-1zM64 531h1v1h-1zM69 531h1v1h-1zM71 531h1v1h-1zM73 531h1v1h-1zM79 531h1v1h-1zM82 531h1v1h-1zM84 531h1v1h-1zM86 531h1v1h-1zM79 509h1v1h-1zM83 509h1v1h-1zM57 536h1v1h-1zM68 536h1v1h-1zM75 536h1v1h-1zM79 536h2v1h-2zM56 513h1v1h-1zM65 513h2v1h-2zM84 513h1v1h-1zM86 513h1v1h-1zM92 513h1v1h-1zM108 513h1v1h-1zM114 513h1v1h-1zM63 537h1v1h-1zM69 537h1v1h-1zM71 537h1v1h-1zM78 537h2v1h-2zM81 537h1v1h-1zM53 534h1v1h-1zM55 534h1v1h-1zM60 534h1v1h-1zM76 534h1v1h-1zM81 534h1v1h-1zM98 534h1v1h-1zM101 534h1v1h-1zM55 532h1v1h-1zM58 532h1v1h-1zM69 532h2v1h-2zM74 532h1v1h-1zM76 532h2v1h-2zM90 532h1v1h-1zM105 532h1v1h-1zM48 535h1v1h-1zM50 535h1v1h-1zM60 535h1v1h-1zM64 535h1v1h-1zM71 535h1v1h-1zM95 535h1v1h-1zM68 541h1v1h-1zM87 541h1v1h-1zM77 539h1v1h-1zM81 539h1v1h-1zM101 539h1v1h-1zM55 538h1v1h-1zM86 538h1v1h-1zM77 543h1v1h-1zM86 543h1v1h-1zM75 544h1v1h-1zM64 542h1v1h-1zM85 542h1v1h-1zM74 545h1v1h-1zM90 545h1v1h-1zM82 540h1v1h-1zM90 540h1v1h-1zM100 549h1v1h-1zM69 548h1v1h-1zM79 550h1v1h-1zM78 546h1v1h-1zM64 547h1v1h-1z" fill="#666"/><path d="M52 520h1v1h-1zM58 520h1v1h-1zM60 520h5v1h-5zM69 520h2v1h-2zM72 520h1v1h-1zM83 520h2v1h-2zM86 520h1v1h-1zM89 520h2v1h-2zM92 520h1v1h-1zM94 520h3v1h-3zM98 520h1v1h-1zM102 520h1v1h-1zM52 521h1v1h-1zM55 521h1v1h-1zM62 521h2v1h-2zM68 521h1v1h-1zM70 521h1v1h-1zM85 521h2v1h-2zM89 521h1v1h-1zM91 521h1v1h-1zM96 521h1v1h-1zM53 525h1v1h-1zM59 525h1v1h-1zM61 525h2v1h-2zM67 525h2v1h-2zM72 525h1v1h-1zM75 525h2v1h-2zM84 525h2v1h-2zM91 525h1v1h-1zM95 525h1v1h-1zM52 527h1v1h-1zM64 527h2v1h-2zM67 527h1v1h-1zM69 527h1v1h-1zM72 527h1v1h-1zM75 527h4v1h-4zM80 527h1v1h-1zM83 527h3v1h-3zM87 527h1v1h-1zM91 527h1v1h-1zM97 527h1v1h-1zM60 518h1v1h-1zM62 518h1v1h-1zM65 518h1v1h-1zM77 518h1v1h-1zM80 518h1v1h-1zM82 518h3v1h-3zM87 518h2v1h-2zM90 518h1v1h-1zM93 518h1v1h-1zM70 514h1v1h-1zM79 514h2v1h-2zM83 514h1v1h-1zM91 514h1v1h-1zM58 517h1v1h-1zM64 517h1v1h-1zM68 517h2v1h-2zM72 517h4v1h-4zM77 517h1v1h-1zM81 517h2v1h-2zM90 517h1v1h-1zM92 517h1v1h-1zM55 519h1v1h-1zM57 519h1v1h-1zM62 519h1v1h-1zM64 519h1v1h-1zM66 519h1v1h-1zM68 519h2v1h-2zM73 519h1v1h-1zM75 519h1v1h-1zM88 519h2v1h-2zM91 519h1v1h-1zM93 519h1v1h-1zM96 519h1v1h-1zM56 526h1v1h-1zM58 526h7v1h-7zM70 526h1v1h-1zM75 526h4v1h-4zM82 526h4v1h-4zM90 526h1v1h-1zM93 526h1v1h-1zM96 526h2v1h-2zM99 526h1v1h-1zM68 530h1v1h-1zM70 530h1v1h-1zM81 530h1v1h-1zM87 530h1v1h-1zM57 522h1v1h-1zM60 522h1v1h-1zM65 522h2v1h-2zM85 522h1v1h-1zM88 522h3v1h-3zM93 522h1v1h-1zM97 522h2v1h-2zM65 533h1v1h-1zM67 533h2v1h-2zM72 533h1v1h-1zM79 533h1v1h-1zM84 533h1v1h-1zM55 516h1v1h-1zM60 516h1v1h-1zM63 516h3v1h-3zM69 516h2v1h-2zM72 516h3v1h-3zM78 516h1v1h-1zM82 516h2v1h-2zM86 516h1v1h-1zM89 516h1v1h-1zM61 528h1v1h-1zM71 528h2v1h-2zM76 528h1v1h-1zM81 528h1v1h-1zM84 528h2v1h-2zM88 528h2v1h-2zM95 528h1v1h-1zM74 513h2v1h-2zM77 513h1v1h-1zM82 513h1v1h-1zM57 515h2v1h-2zM67 515h1v1h-1zM69 515h1v1h-1zM72 515h1v1h-1zM80 515h1v1h-1zM86 515h1v1h-1zM56 524h1v1h-1zM59 524h1v1h-1zM61 524h2v1h-2zM65 524h2v1h-2zM68 524h2v1h-2zM81 524h1v1h-1zM87 524h2v1h-2zM90 524h1v1h-1zM98 524h1v1h-1zM57 523h1v1h-1zM60 523h1v1h-1zM62 523h3v1h-3zM68 523h1v1h-1zM75 523h2v1h-2zM81 523h1v1h-1zM87 523h2v1h-2zM95 523h1v1h-1zM99 523h1v1h-1zM104 523h1v1h-1zM73 512h1v1h-1zM76 512h2v1h-2zM93 512h1v1h-1zM63 529h1v1h-1zM65 529h1v1h-1zM68 529h1v1h-1zM72 529h1v1h-1zM85 529h1v1h-1zM90 529h1v1h-1zM95 529h1v1h-1zM98 529h2v1h-2zM67 532h1v1h-1zM75 532h1v1h-1zM78 532h1v1h-1zM83 532h1v1h-1zM91 532h1v1h-1zM63 531h1v1h-1zM67 531h1v1h-1zM77 531h1v1h-1zM88 536h1v1h-1zM81 510h1v1h-1zM70 535h1v1h-1zM73 535h1v1h-1zM75 535h1v1h-1zM80 535h1v1h-1zM76 540h1v1h-1zM111 542h1v1h-1zM70 539h1v1h-1zM78 538h1v1h-1zM90 538h1v1h-1zM75 543h1v1h-1z" fill="#3a3a3a"/><path d="M59 521h1v1h-1zM65 521h3v1h-3zM69 521h1v1h-1zM71 521h14v1h-14zM87 521h2v1h-2zM90 521h1v1h-1zM92 521h2v1h-2zM58 522h1v1h-1zM61 522h2v1h-2zM64 522h1v1h-1zM67 522h18v1h-18zM86 522h2v1h-2zM94 522h1v1h-1zM74 515h1v1h-1zM78 515h1v1h-1zM82 515h1v1h-1zM87 515h1v1h-1zM63 519h1v1h-1zM65 519h1v1h-1zM70 519h3v1h-3zM74 519h1v1h-1zM77 519h9v1h-9zM87 519h1v1h-1zM90 519h1v1h-1zM92 519h1v1h-1zM94 519h1v1h-1zM97 519h1v1h-1zM65 525h2v1h-2zM69 525h3v1h-3zM73 525h2v1h-2zM78 525h6v1h-6zM86 525h1v1h-1zM88 525h3v1h-3zM92 525h1v1h-1zM63 524h2v1h-2zM70 524h11v1h-11zM82 524h4v1h-4zM99 524h1v1h-1zM65 520h4v1h-4zM71 520h1v1h-1zM73 520h10v1h-10zM85 520h1v1h-1zM88 520h1v1h-1zM91 520h1v1h-1zM66 527h1v1h-1zM68 527h1v1h-1zM70 527h2v1h-2zM73 527h1v1h-1zM79 527h1v1h-1zM81 527h2v1h-2zM94 527h1v1h-1zM68 518h5v1h-5zM74 518h3v1h-3zM78 518h2v1h-2zM81 518h1v1h-1zM85 518h1v1h-1zM76 516h1v1h-1zM81 516h1v1h-1zM88 531h1v1h-1zM65 523h3v1h-3zM69 523h6v1h-6zM77 523h4v1h-4zM82 523h5v1h-5zM90 523h2v1h-2zM77 529h2v1h-2zM87 529h1v1h-1zM66 526h4v1h-4zM71 526h4v1h-4zM79 526h2v1h-2zM87 526h1v1h-1zM71 517h1v1h-1zM76 517h1v1h-1zM78 517h2v1h-2zM83 517h1v1h-1zM85 517h2v1h-2zM73 528h1v1h-1zM75 528h1v1h-1zM83 528h1v1h-1zM86 528h1v1h-1zM93 528h1v1h-1zM67 514h1v1h-1zM73 514h1v1h-1zM76 530h1v1h-1z" fill="#000"/></g>
<rect x="45.1" y="456.8" width="113.1" height="96.9" fill="none" stroke="#000" stroke-width="1.7"/>
<line x1="104.5" y1="456.8" x2="104.5" y2="553.7" stroke="#000" stroke-width="1.5"/>
<line x1="45.1" y1="507.5" x2="158.2" y2="507.5" stroke="#000" stroke-width="1.5"/>
<line x1="67.1" y1="553.7" x2="67.1" y2="559.7" stroke="#000" stroke-width="1.5"/>
<text x="58.6" y="569.7" font-size="10.9" fill="#000">10<tspan font-size="7" dy="-3.9">0</tspan></text>
<line x1="97.3" y1="553.7" x2="97.3" y2="559.7" stroke="#000" stroke-width="1.5"/>
<text x="88.8" y="569.7" font-size="10.9" fill="#000">10<tspan font-size="7" dy="-3.9">1</tspan></text>
<line x1="127.5" y1="553.7" x2="127.5" y2="559.7" stroke="#000" stroke-width="1.5"/>
<text x="119.0" y="569.7" font-size="10.9" fill="#000">10<tspan font-size="7" dy="-3.9">2</tspan></text>
<line x1="157.7" y1="553.7" x2="157.7" y2="559.7" stroke="#000" stroke-width="1.5"/>
<text x="149.2" y="569.7" font-size="10.9" fill="#000">10<tspan font-size="7" dy="-3.9">3</tspan></text>
<text x="86.3" y="452.4" font-size="12.6" font-weight="bold" fill="#000">Control</text>
<text x="145.4" y="473.6" font-size="12.5" font-weight="bold" text-anchor="end" fill="#000">2%</text>
<text x="146.3" y="545.6" font-size="12.5" font-weight="bold" text-anchor="end" fill="#000">7%</text>
<line x1="37.9" y1="456.8" x2="45.1" y2="456.8" stroke="#000" stroke-width="1.5"/>
<text x="18.9" y="464.8" font-size="10.9" fill="#000">10<tspan font-size="7" dy="-3.9">3</tspan></text>
<line x1="37.9" y1="482.4" x2="45.1" y2="482.4" stroke="#000" stroke-width="1.5"/>
<text x="18.9" y="490.4" font-size="10.9" fill="#000">10<tspan font-size="7" dy="-3.9">2</tspan></text>
<line x1="37.9" y1="508.0" x2="45.1" y2="508.0" stroke="#000" stroke-width="1.5"/>
<text x="18.9" y="516.0" font-size="10.9" fill="#000">10<tspan font-size="7" dy="-3.9">1</tspan></text>
<line x1="37.9" y1="533.6" x2="45.1" y2="533.6" stroke="#000" stroke-width="1.5"/>
<text x="18.9" y="541.6" font-size="10.9" fill="#000">10<tspan font-size="7" dy="-3.9">0</tspan></text>
<g filter="url(#soft)"><path d="M220 507h1v1h-1zM224 507h1v1h-1zM227 507h1v1h-1zM234 507h2v1h-2zM173 527h1v1h-1zM194 527h1v1h-1zM197 527h1v1h-1zM205 527h1v1h-1zM215 527h3v1h-3zM219 527h1v1h-1zM221 527h1v1h-1zM224 527h1v1h-1zM234 527h1v1h-1zM237 527h2v1h-2zM240 527h3v1h-3zM185 521h1v1h-1zM189 521h1v1h-1zM192 521h1v1h-1zM202 521h1v1h-1zM205 521h1v1h-1zM209 521h1v1h-1zM213 521h1v1h-1zM233 521h2v1h-2zM237 521h2v1h-2zM240 521h1v1h-1zM248 521h1v1h-1zM190 529h1v1h-1zM193 529h1v1h-1zM197 529h1v1h-1zM199 529h1v1h-1zM211 529h1v1h-1zM216 529h2v1h-2zM224 529h1v1h-1zM226 529h1v1h-1zM238 529h1v1h-1zM186 523h1v1h-1zM196 523h1v1h-1zM201 523h1v1h-1zM213 523h1v1h-1zM216 523h1v1h-1zM218 523h1v1h-1zM235 523h2v1h-2zM238 523h5v1h-5zM246 523h1v1h-1zM185 530h1v1h-1zM201 530h1v1h-1zM204 530h1v1h-1zM217 530h1v1h-1zM221 530h1v1h-1zM224 530h1v1h-1zM229 530h2v1h-2zM232 530h1v1h-1zM235 530h1v1h-1zM239 530h1v1h-1zM244 530h1v1h-1zM247 530h1v1h-1zM207 536h2v1h-2zM214 536h1v1h-1zM223 536h1v1h-1zM226 536h1v1h-1zM230 536h2v1h-2zM233 536h1v1h-1zM237 536h2v1h-2zM188 525h1v1h-1zM192 525h2v1h-2zM195 525h1v1h-1zM202 525h2v1h-2zM210 525h1v1h-1zM212 525h3v1h-3zM217 525h1v1h-1zM220 525h1v1h-1zM239 525h1v1h-1zM243 525h1v1h-1zM247 525h1v1h-1zM223 510h1v1h-1zM225 510h2v1h-2zM229 510h1v1h-1zM233 510h2v1h-2zM238 510h1v1h-1zM240 510h1v1h-1zM223 508h4v1h-4zM229 508h2v1h-2zM238 508h1v1h-1zM229 505h1v1h-1zM231 505h1v1h-1zM235 505h2v1h-2zM222 509h1v1h-1zM225 509h2v1h-2zM229 509h1v1h-1zM237 509h3v1h-3zM202 517h1v1h-1zM209 517h1v1h-1zM214 517h1v1h-1zM218 517h1v1h-1zM221 517h1v1h-1zM192 516h1v1h-1zM208 516h1v1h-1zM214 516h1v1h-1zM221 516h1v1h-1zM236 516h2v1h-2zM240 516h1v1h-1zM243 516h1v1h-1zM197 511h2v1h-2zM215 511h1v1h-1zM220 511h1v1h-1zM222 511h1v1h-1zM229 511h1v1h-1zM231 511h2v1h-2zM242 511h1v1h-1zM197 512h1v1h-1zM220 512h1v1h-1zM222 512h3v1h-3zM226 512h2v1h-2zM234 512h2v1h-2zM237 512h1v1h-1zM239 512h1v1h-1zM243 512h1v1h-1zM176 532h1v1h-1zM189 532h1v1h-1zM193 532h1v1h-1zM201 532h2v1h-2zM204 532h1v1h-1zM209 532h1v1h-1zM221 532h1v1h-1zM225 532h3v1h-3zM234 532h1v1h-1zM237 532h1v1h-1zM239 532h2v1h-2zM247 532h1v1h-1zM222 506h1v1h-1zM225 506h1v1h-1zM228 506h1v1h-1zM230 506h1v1h-1zM232 506h1v1h-1zM234 506h1v1h-1zM187 520h1v1h-1zM191 520h1v1h-1zM194 520h1v1h-1zM201 520h1v1h-1zM208 520h3v1h-3zM218 520h3v1h-3zM236 520h1v1h-1zM240 520h2v1h-2zM243 520h1v1h-1zM247 520h1v1h-1zM169 531h1v1h-1zM179 531h1v1h-1zM183 531h1v1h-1zM190 531h1v1h-1zM194 531h2v1h-2zM198 531h1v1h-1zM208 531h1v1h-1zM210 531h1v1h-1zM215 531h3v1h-3zM219 531h1v1h-1zM223 531h1v1h-1zM225 531h1v1h-1zM227 531h1v1h-1zM229 531h1v1h-1zM232 531h1v1h-1zM239 531h1v1h-1zM199 533h1v1h-1zM208 533h1v1h-1zM218 533h1v1h-1zM221 533h2v1h-2zM226 533h1v1h-1zM228 533h1v1h-1zM230 533h1v1h-1zM239 533h1v1h-1zM241 533h1v1h-1zM247 533h1v1h-1zM203 515h1v1h-1zM206 515h1v1h-1zM209 515h1v1h-1zM223 515h1v1h-1zM233 515h1v1h-1zM235 515h2v1h-2zM241 515h1v1h-1zM194 513h1v1h-1zM205 513h1v1h-1zM211 513h1v1h-1zM216 513h2v1h-2zM226 513h1v1h-1zM235 513h1v1h-1zM238 513h3v1h-3zM175 522h1v1h-1zM181 522h1v1h-1zM185 522h1v1h-1zM193 522h1v1h-1zM205 522h3v1h-3zM218 522h1v1h-1zM233 522h1v1h-1zM240 522h1v1h-1zM246 522h1v1h-1zM248 522h1v1h-1zM230 504h2v1h-2zM184 514h1v1h-1zM204 514h1v1h-1zM207 514h1v1h-1zM209 514h1v1h-1zM215 514h2v1h-2zM221 514h1v1h-1zM234 514h1v1h-1zM236 514h1v1h-1zM239 514h1v1h-1zM245 514h1v1h-1zM182 534h1v1h-1zM184 534h2v1h-2zM189 534h1v1h-1zM197 534h1v1h-1zM203 534h1v1h-1zM207 534h1v1h-1zM218 534h4v1h-4zM227 534h1v1h-1zM234 534h2v1h-2zM243 534h1v1h-1zM247 534h1v1h-1zM172 528h1v1h-1zM176 528h1v1h-1zM189 528h2v1h-2zM193 528h1v1h-1zM197 528h1v1h-1zM200 528h1v1h-1zM204 528h1v1h-1zM206 528h1v1h-1zM213 528h1v1h-1zM215 528h1v1h-1zM218 528h2v1h-2zM223 528h1v1h-1zM231 528h1v1h-1zM235 528h4v1h-4zM240 528h1v1h-1zM244 528h1v1h-1zM192 526h2v1h-2zM198 526h1v1h-1zM204 526h1v1h-1zM210 526h3v1h-3zM217 526h2v1h-2zM220 526h1v1h-1zM222 526h1v1h-1zM235 526h2v1h-2zM239 526h1v1h-1zM242 526h1v1h-1zM250 526h1v1h-1zM204 519h2v1h-2zM217 519h2v1h-2zM220 519h1v1h-1zM197 524h2v1h-2zM200 524h1v1h-1zM204 524h1v1h-1zM213 524h1v1h-1zM218 524h1v1h-1zM235 524h1v1h-1zM238 524h2v1h-2zM241 524h2v1h-2zM182 518h1v1h-1zM199 518h1v1h-1zM207 518h2v1h-2zM212 518h1v1h-1zM217 518h1v1h-1zM235 518h1v1h-1zM240 518h3v1h-3zM190 537h1v1h-1zM202 537h1v1h-1zM217 537h1v1h-1zM221 537h2v1h-2zM225 537h1v1h-1zM227 537h1v1h-1zM230 537h2v1h-2zM236 537h1v1h-1zM239 545h1v1h-1zM182 535h2v1h-2zM188 535h1v1h-1zM201 535h2v1h-2zM207 535h2v1h-2zM219 535h4v1h-4zM224 535h2v1h-2zM228 535h1v1h-1zM230 535h1v1h-1zM233 535h1v1h-1zM236 535h1v1h-1zM239 535h1v1h-1zM196 541h1v1h-1zM206 541h1v1h-1zM215 541h1v1h-1zM217 541h1v1h-1zM225 541h1v1h-1zM236 541h1v1h-1zM242 541h1v1h-1zM171 538h1v1h-1zM177 538h1v1h-1zM203 538h1v1h-1zM221 538h1v1h-1zM223 538h1v1h-1zM229 538h3v1h-3zM237 538h1v1h-1zM239 538h1v1h-1zM224 503h1v1h-1zM227 503h3v1h-3zM234 503h2v1h-2zM239 503h1v1h-1zM181 540h1v1h-1zM184 540h1v1h-1zM216 540h1v1h-1zM218 540h1v1h-1zM227 540h1v1h-1zM229 540h1v1h-1zM233 540h1v1h-1zM238 540h1v1h-1zM246 540h1v1h-1zM186 539h1v1h-1zM190 539h1v1h-1zM210 539h1v1h-1zM215 539h1v1h-1zM221 539h1v1h-1zM224 539h1v1h-1zM226 539h3v1h-3zM231 539h3v1h-3zM237 539h1v1h-1zM240 539h1v1h-1zM213 542h1v1h-1zM222 542h1v1h-1zM227 542h2v1h-2zM240 542h1v1h-1zM225 549h1v1h-1zM238 549h1v1h-1zM249 549h1v1h-1zM230 544h1v1h-1zM232 544h1v1h-1zM223 551h1v1h-1zM235 551h1v1h-1zM219 543h1v1h-1zM229 543h1v1h-1zM231 543h1v1h-1zM237 543h1v1h-1zM226 547h1v1h-1zM232 547h1v1h-1zM226 496h1v1h-1zM228 496h2v1h-2zM233 496h3v1h-3zM237 496h1v1h-1zM239 496h1v1h-1zM227 548h1v1h-1zM230 548h1v1h-1zM231 546h1v1h-1zM233 546h2v1h-2zM231 550h1v1h-1zM251 550h1v1h-1zM225 494h1v1h-1zM235 494h1v1h-1zM238 494h2v1h-2zM216 492h1v1h-1zM220 487h1v1h-1zM225 487h1v1h-1zM228 487h1v1h-1zM235 487h1v1h-1zM227 489h1v1h-1zM233 489h1v1h-1zM227 475h1v1h-1zM233 475h1v1h-1zM223 499h1v1h-1zM230 499h1v1h-1zM228 479h1v1h-1zM220 485h1v1h-1zM228 485h1v1h-1zM232 485h1v1h-1zM223 497h1v1h-1zM231 497h1v1h-1zM242 497h1v1h-1zM227 500h1v1h-1zM229 500h1v1h-1zM231 500h1v1h-1zM222 486h1v1h-1zM227 486h1v1h-1zM237 486h1v1h-1zM225 491h1v1h-1zM231 491h1v1h-1zM234 491h1v1h-1zM233 474h1v1h-1zM225 484h1v1h-1zM227 484h1v1h-1zM231 484h1v1h-1zM238 484h1v1h-1zM228 478h1v1h-1zM239 478h1v1h-1zM227 501h1v1h-1zM238 501h1v1h-1zM231 498h1v1h-1zM233 498h1v1h-1zM239 498h1v1h-1zM222 490h1v1h-1zM226 490h1v1h-1zM216 493h3v1h-3zM225 483h1v1h-1zM229 483h1v1h-1zM220 476h1v1h-1zM228 476h1v1h-1zM225 488h1v1h-1zM227 502h1v1h-1zM213 481h1v1h-1zM223 481h1v1h-1zM199 458h1v1h-1zM252 463h1v1h-1z" fill="#9a9a9a"/><path d="M219 514h1v1h-1zM222 514h1v1h-1zM225 514h1v1h-1zM233 514h1v1h-1zM235 514h1v1h-1zM218 516h2v1h-2zM214 524h1v1h-1zM220 524h2v1h-2zM224 524h1v1h-1zM236 524h2v1h-2zM227 509h1v1h-1zM232 509h2v1h-2zM236 509h1v1h-1zM187 523h1v1h-1zM189 523h1v1h-1zM202 523h1v1h-1zM204 523h1v1h-1zM219 523h1v1h-1zM221 523h1v1h-1zM233 523h1v1h-1zM237 523h1v1h-1zM212 511h1v1h-1zM224 511h1v1h-1zM226 511h2v1h-2zM234 511h1v1h-1zM187 517h1v1h-1zM215 517h1v1h-1zM217 517h1v1h-1zM219 517h2v1h-2zM222 517h1v1h-1zM236 517h2v1h-2zM224 510h1v1h-1zM227 510h2v1h-2zM230 510h1v1h-1zM236 510h2v1h-2zM217 533h1v1h-1zM225 533h1v1h-1zM232 533h1v1h-1zM234 533h1v1h-1zM244 533h1v1h-1zM220 532h1v1h-1zM230 532h1v1h-1zM232 532h2v1h-2zM235 532h1v1h-1zM221 528h1v1h-1zM226 528h2v1h-2zM232 528h1v1h-1zM234 528h1v1h-1zM230 531h1v1h-1zM234 531h1v1h-1zM237 531h1v1h-1zM220 527h1v1h-1zM222 527h1v1h-1zM198 513h1v1h-1zM221 513h1v1h-1zM225 513h1v1h-1zM233 513h1v1h-1zM236 513h1v1h-1zM190 525h1v1h-1zM222 525h1v1h-1zM236 525h1v1h-1zM238 525h1v1h-1zM241 525h1v1h-1zM221 519h1v1h-1zM235 519h1v1h-1zM237 519h1v1h-1zM199 534h1v1h-1zM230 534h1v1h-1zM232 534h2v1h-2zM239 534h1v1h-1zM188 515h1v1h-1zM213 515h1v1h-1zM216 515h1v1h-1zM218 515h2v1h-2zM231 515h1v1h-1zM228 512h1v1h-1zM230 512h3v1h-3zM221 529h2v1h-2zM232 529h1v1h-1zM235 529h2v1h-2zM221 526h1v1h-1zM223 526h1v1h-1zM232 526h1v1h-1zM234 526h1v1h-1zM199 522h2v1h-2zM220 522h1v1h-1zM237 522h1v1h-1zM241 522h1v1h-1zM216 520h1v1h-1zM223 520h1v1h-1zM234 520h1v1h-1zM238 520h1v1h-1zM190 530h1v1h-1zM222 530h2v1h-2zM236 530h1v1h-1zM229 504h1v1h-1zM233 504h1v1h-1zM236 518h1v1h-1zM239 537h1v1h-1zM238 544h1v1h-1zM236 538h1v1h-1zM222 539h1v1h-1zM230 539h1v1h-1zM222 536h1v1h-1zM225 536h1v1h-1zM226 507h1v1h-1zM221 503h1v1h-1zM217 535h1v1h-1zM223 535h1v1h-1zM232 535h1v1h-1zM231 540h1v1h-1zM236 499h1v1h-1zM228 495h1v1h-1z" fill="#666"/><path d="M218 518h1v1h-1zM220 518h1v1h-1zM222 518h2v1h-2zM227 518h1v1h-1zM234 518h1v1h-1zM220 516h1v1h-1zM222 516h3v1h-3zM232 516h2v1h-2zM235 516h1v1h-1zM222 513h3v1h-3zM227 513h1v1h-1zM229 513h4v1h-4zM221 525h1v1h-1zM223 525h2v1h-2zM227 525h2v1h-2zM235 525h1v1h-1zM237 525h1v1h-1zM222 515h1v1h-1zM224 515h2v1h-2zM229 515h2v1h-2zM232 515h1v1h-1zM234 515h1v1h-1zM219 522h1v1h-1zM221 522h1v1h-1zM234 522h3v1h-3zM225 527h1v1h-1zM231 527h1v1h-1zM227 529h5v1h-5zM233 529h1v1h-1zM237 529h1v1h-1zM219 519h1v1h-1zM222 519h1v1h-1zM225 530h3v1h-3zM233 530h1v1h-1zM216 517h1v1h-1zM223 517h1v1h-1zM235 517h1v1h-1zM225 511h1v1h-1zM228 511h1v1h-1zM230 511h1v1h-1zM219 526h1v1h-1zM224 526h1v1h-1zM226 526h1v1h-1zM233 526h1v1h-1zM240 526h1v1h-1zM223 514h1v1h-1zM226 514h1v1h-1zM231 514h2v1h-2zM222 524h2v1h-2zM230 524h1v1h-1zM232 524h3v1h-3zM222 528h1v1h-1zM224 528h2v1h-2zM228 528h1v1h-1zM230 528h1v1h-1zM224 531h1v1h-1zM226 531h1v1h-1zM231 531h1v1h-1zM218 521h1v1h-1zM220 521h1v1h-1zM232 521h1v1h-1zM235 521h1v1h-1zM222 520h1v1h-1zM224 520h1v1h-1zM222 510h1v1h-1zM225 512h1v1h-1zM229 512h1v1h-1zM226 534h1v1h-1zM228 534h2v1h-2zM220 523h1v1h-1zM224 523h1v1h-1zM234 523h1v1h-1zM228 508h1v1h-1zM226 505h2v1h-2zM229 533h1v1h-1zM228 532h1v1h-1zM228 541h1v1h-1zM229 535h1v1h-1zM231 535h1v1h-1zM230 540h1v1h-1zM229 487h1v1h-1z" fill="#3a3a3a"/><path d="M222 522h11v1h-11zM224 517h11v1h-11zM225 516h7v1h-7zM234 516h1v1h-1zM221 518h1v1h-1zM224 518h3v1h-3zM228 518h6v1h-6zM225 524h5v1h-5zM231 524h1v1h-1zM226 515h3v1h-3zM221 520h1v1h-1zM225 520h9v1h-9zM237 520h1v1h-1zM221 521h11v1h-11zM236 521h1v1h-1zM223 519h11v1h-11zM225 526h1v1h-1zM227 526h5v1h-5zM225 525h2v1h-2zM229 525h6v1h-6zM222 523h2v1h-2zM225 523h8v1h-8zM226 527h5v1h-5zM232 527h2v1h-2zM223 529h1v1h-1zM225 529h1v1h-1zM224 514h1v1h-1zM227 514h3v1h-3zM228 513h1v1h-1zM228 530h1v1h-1zM231 530h1v1h-1zM228 531h1v1h-1zM231 534h1v1h-1zM229 528h1v1h-1zM227 533h1v1h-1z" fill="#000"/></g>
<rect x="162.2" y="456.8" width="112.9" height="96.9" fill="none" stroke="#000" stroke-width="1.7"/>
<line x1="216.0" y1="456.8" x2="216.0" y2="553.7" stroke="#000" stroke-width="1.5"/>
<line x1="162.2" y1="507.5" x2="275.1" y2="507.5" stroke="#000" stroke-width="1.5"/>
<line x1="184.2" y1="553.7" x2="184.2" y2="559.7" stroke="#000" stroke-width="1.5"/>
<text x="175.7" y="569.7" font-size="10.9" fill="#000">10<tspan font-size="7" dy="-3.9">0</tspan></text>
<line x1="214.4" y1="553.7" x2="214.4" y2="559.7" stroke="#000" stroke-width="1.5"/>
<text x="205.9" y="569.7" font-size="10.9" fill="#000">10<tspan font-size="7" dy="-3.9">1</tspan></text>
<line x1="244.6" y1="553.7" x2="244.6" y2="559.7" stroke="#000" stroke-width="1.5"/>
<text x="236.1" y="569.7" font-size="10.9" fill="#000">10<tspan font-size="7" dy="-3.9">2</tspan></text>
<line x1="274.8" y1="553.7" x2="274.8" y2="559.7" stroke="#000" stroke-width="1.5"/>
<text x="266.3" y="569.7" font-size="10.9" fill="#000">10<tspan font-size="7" dy="-3.9">3</tspan></text>
<text x="193.7" y="452.4" font-size="12.9" font-weight="bold" fill="#000">737+ASP</text>
<text x="268.3" y="473.3" font-size="12.5" font-weight="bold" text-anchor="end" fill="#000">17%</text>
<text x="269.3" y="544.4" font-size="12.5" font-weight="bold" text-anchor="end" fill="#000">68%</text>
<text transform="translate(18.0,506.3) rotate(-90)" font-size="12.6" font-weight="bold" fill="#000">PI</text>
<text x="106.8" y="588.3" font-size="12.7" font-weight="bold" fill="#000">Annexin V-FITC</text>
<rect x="335.0" y="437.8" width="164.10000000000002" height="118.19999999999999" fill="none" stroke="#6a6a6a" stroke-width="1.2"/>
<line x1="332.7" y1="556.0" x2="335.0" y2="556.0" stroke="#6a6a6a" stroke-width="1"/>
<text x="328.6" y="559.0" font-size="8.6" text-anchor="end" fill="#000">0</text>
<line x1="332.7" y1="532.4" x2="335.0" y2="532.4" stroke="#6a6a6a" stroke-width="1"/>
<text x="328.6" y="535.4" font-size="8.6" text-anchor="end" fill="#000">20</text>
<line x1="332.7" y1="508.7" x2="335.0" y2="508.7" stroke="#6a6a6a" stroke-width="1"/>
<text x="328.6" y="511.7" font-size="8.6" text-anchor="end" fill="#000">40</text>
<line x1="332.7" y1="485.1" x2="335.0" y2="485.1" stroke="#6a6a6a" stroke-width="1"/>
<text x="328.6" y="488.1" font-size="8.6" text-anchor="end" fill="#000">60</text>
<line x1="332.7" y1="461.4" x2="335.0" y2="461.4" stroke="#6a6a6a" stroke-width="1"/>
<text x="328.6" y="464.4" font-size="8.6" text-anchor="end" fill="#000">80</text>
<line x1="332.7" y1="437.8" x2="335.0" y2="437.8" stroke="#6a6a6a" stroke-width="1"/>
<text x="328.6" y="440.8" font-size="8.6" text-anchor="end" fill="#000">100</text>
<text transform="translate(303.2,537.3) rotate(-90)" font-size="13.7" font-weight="bold" fill="#000">% apoptosis</text>
<line x1="358.6" y1="546.0" x2="358.6" y2="548.9" stroke="#000" stroke-width="1.1"/>
<line x1="356.7" y1="546.0" x2="360.5" y2="546.0" stroke="#000" stroke-width="1.2"/>
<rect x="352.8" y="548.9" width="11.6" height="7.1" fill="#000"/>
<line x1="358.6" y1="556.0" x2="358.6" y2="558.3" stroke="#6a6a6a" stroke-width="1"/>
<text transform="translate(362.6,567.3) rotate(-45)" font-size="12.9" font-weight="bold" text-anchor="end" fill="#000">Control</text>
<line x1="382.0" y1="472.1" x2="382.0" y2="479.2" stroke="#000" stroke-width="1.1"/>
<line x1="380.1" y1="472.1" x2="383.9" y2="472.1" stroke="#000" stroke-width="1.2"/>
<rect x="376.2" y="479.2" width="11.6" height="76.8" fill="#000"/>
<line x1="382.0" y1="556.0" x2="382.0" y2="558.3" stroke="#6a6a6a" stroke-width="1"/>
<text transform="translate(387.7,566.5) rotate(-45)" font-size="12.9" font-weight="bold" text-anchor="end" fill="#000">737+ASP</text>
<line x1="405.4" y1="531.2" x2="405.4" y2="539.5" stroke="#000" stroke-width="1.1"/>
<line x1="403.5" y1="531.2" x2="407.3" y2="531.2" stroke="#000" stroke-width="1.2"/>
<rect x="399.6" y="539.5" width="11.6" height="16.5" fill="#000"/>
<line x1="405.4" y1="556.0" x2="405.4" y2="558.3" stroke="#6a6a6a" stroke-width="1"/>
<text transform="translate(417.0,568.1) rotate(-45)" font-size="12.9" font-weight="bold" text-anchor="end" fill="#000">Control</text>
<line x1="428.8" y1="533.0" x2="428.8" y2="539.5" stroke="#000" stroke-width="1.1"/>
<line x1="426.9" y1="533.0" x2="430.7" y2="533.0" stroke="#000" stroke-width="1.2"/>
<rect x="423.0" y="539.5" width="11.6" height="16.5" fill="#000"/>
<line x1="428.8" y1="556.0" x2="428.8" y2="558.3" stroke="#6a6a6a" stroke-width="1"/>
<text transform="translate(436.7,567.8) rotate(-45)" font-size="12.9" font-weight="bold" text-anchor="end" fill="#000">737</text>
<line x1="452.2" y1="533.0" x2="452.2" y2="539.5" stroke="#000" stroke-width="1.1"/>
<line x1="450.3" y1="533.0" x2="454.1" y2="533.0" stroke="#000" stroke-width="1.2"/>
<rect x="446.4" y="539.5" width="11.6" height="16.5" fill="#000"/>
<line x1="452.2" y1="556.0" x2="452.2" y2="558.3" stroke="#6a6a6a" stroke-width="1"/>
<text transform="translate(460.2,567.8) rotate(-45)" font-size="12.9" font-weight="bold" text-anchor="end" fill="#000">ASP</text>
<line x1="475.6" y1="530.0" x2="475.6" y2="537.1" stroke="#000" stroke-width="1.1"/>
<line x1="473.7" y1="530.0" x2="477.5" y2="530.0" stroke="#000" stroke-width="1.2"/>
<rect x="469.8" y="537.1" width="11.6" height="18.9" fill="#000"/>
<line x1="475.6" y1="556.0" x2="475.6" y2="558.3" stroke="#6a6a6a" stroke-width="1"/>
<text transform="translate(486.0,566.3) rotate(-45)" font-size="12.9" font-weight="bold" text-anchor="end" fill="#000">737+ASP</text>
<text x="339.6" y="453.9" font-size="12.7" fill="#000">COG-LL-317</text>
<line x1="342.7" y1="464.9" x2="392.7" y2="464.9" stroke="#000" stroke-width="1.6"/>
<text x="403.4" y="513.8" font-size="12.9" fill="#000">Lymphocytes</text>
<line x1="398.5" y1="522.6" x2="485.5" y2="522.6" stroke="#000" stroke-width="1.5"/>
</svg></body></html>
